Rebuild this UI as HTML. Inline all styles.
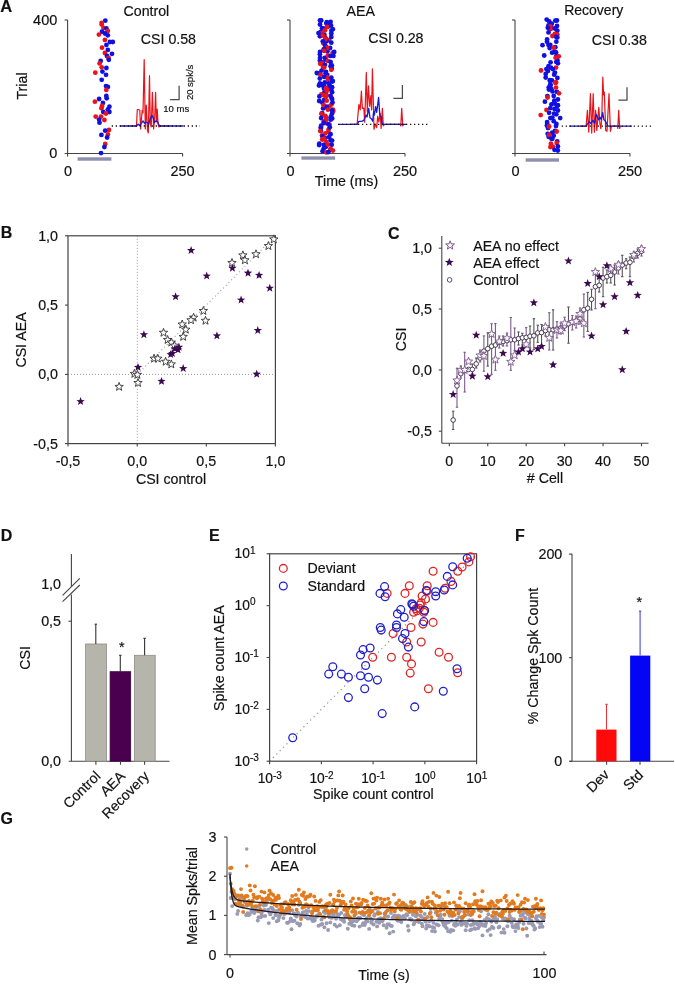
<!DOCTYPE html>
<html><head><meta charset="utf-8"><style>
html,body{margin:0;padding:0;background:#fff;}
svg{display:block;will-change:transform;}
text{font-family:"Liberation Sans",sans-serif;stroke:#111;stroke-width:0.18px;}
</style></head><body>
<svg width="675" height="984" viewBox="0 0 675 984">
<rect width="675" height="984" fill="#fff"/>
<text x="0.3" y="11.8" font-size="16.5" text-anchor="start" fill="#111" font-weight="bold">A</text>
<line x1="67.6" y1="20" x2="67.6" y2="153.5" stroke="#444" stroke-width="1.1"/>
<line x1="64.6" y1="20" x2="67.6" y2="20" stroke="#444" stroke-width="1.1"/>
<line x1="64.6" y1="153.5" x2="182.6" y2="153.5" stroke="#444" stroke-width="1.1"/>
<line x1="182.6" y1="153.5" x2="182.6" y2="156.6" stroke="#444" stroke-width="1.1"/>
<line x1="67.6" y1="153.5" x2="67.6" y2="156.6" stroke="#444" stroke-width="1.1"/>
<rect x="77.6" y="157.3" width="33.80000000000001" height="3.3999999999999773" fill="#8e8eae"/>
<text x="68.1" y="176.3" font-size="14.5" text-anchor="middle" fill="#111">0</text>
<text x="182.6" y="176.3" font-size="14.5" text-anchor="middle" fill="#111">250</text>
<text x="123.5" y="16" font-size="14.2" text-anchor="start" fill="#111">Control</text>
<text x="140.8" y="43.6" font-size="14.2" text-anchor="start" fill="#111">CSI 0.58</text>
<circle cx="105.3" cy="20.7" r="2.4" fill="#1010e0"/>
<circle cx="101.7" cy="22.8" r="2.4" fill="#e8141c"/>
<circle cx="101.7" cy="24.6" r="2.4" fill="#e8141c"/>
<circle cx="103.5" cy="27.8" r="2.4" fill="#e8141c"/>
<circle cx="106.4" cy="28.5" r="2.4" fill="#1010e0"/>
<circle cx="107.8" cy="31" r="2.4" fill="#e8141c"/>
<circle cx="102" cy="31.7" r="2.4" fill="#1010e0"/>
<circle cx="105" cy="33.5" r="2.4" fill="#1010e0"/>
<circle cx="107.8" cy="35.3" r="2.4" fill="#1010e0"/>
<circle cx="98.9" cy="34.6" r="2.4" fill="#e8141c"/>
<circle cx="104.9" cy="39.9" r="2.4" fill="#e8141c"/>
<circle cx="112.8" cy="42" r="2.4" fill="#1010e0"/>
<circle cx="109.9" cy="42" r="2.4" fill="#1010e0"/>
<circle cx="106.4" cy="44.9" r="2.4" fill="#1010e0"/>
<circle cx="102" cy="47.7" r="2.4" fill="#e8141c"/>
<circle cx="107.8" cy="49.9" r="2.4" fill="#1010e0"/>
<circle cx="112" cy="53.8" r="2.4" fill="#1010e0"/>
<circle cx="104.9" cy="53" r="2.4" fill="#e8141c"/>
<circle cx="107" cy="56" r="2.4" fill="#1010e0"/>
<circle cx="108.5" cy="58" r="2.4" fill="#e8141c"/>
<circle cx="108.8" cy="59.8" r="2.4" fill="#1010e0"/>
<circle cx="100.7" cy="60.9" r="2.4" fill="#1010e0"/>
<circle cx="99.6" cy="63.4" r="2.4" fill="#e8141c"/>
<circle cx="101.7" cy="67.3" r="2.4" fill="#e8141c"/>
<circle cx="106.4" cy="68" r="2.4" fill="#1010e0"/>
<circle cx="102.4" cy="71.6" r="2.4" fill="#1010e0"/>
<circle cx="95.3" cy="72.7" r="2.4" fill="#e8141c"/>
<circle cx="106" cy="74.8" r="2.4" fill="#1010e0"/>
<circle cx="101.7" cy="79.8" r="2.4" fill="#1010e0"/>
<circle cx="106" cy="86.1" r="2.4" fill="#1010e0"/>
<circle cx="107.9" cy="86.9" r="2.4" fill="#1010e0"/>
<circle cx="106.3" cy="89.9" r="2.4" fill="#e8141c"/>
<circle cx="106.3" cy="96" r="2.4" fill="#1010e0"/>
<circle cx="106.7" cy="98.3" r="2.4" fill="#1010e0"/>
<circle cx="99.1" cy="99" r="2.4" fill="#1010e0"/>
<circle cx="94.9" cy="101.7" r="2.4" fill="#e8141c"/>
<circle cx="102.9" cy="102.9" r="2.4" fill="#1010e0"/>
<circle cx="102.1" cy="105.9" r="2.4" fill="#e8141c"/>
<circle cx="101.4" cy="108.2" r="2.4" fill="#e8141c"/>
<circle cx="109.4" cy="106.7" r="2.4" fill="#1010e0"/>
<circle cx="107.9" cy="109.3" r="2.4" fill="#1010e0"/>
<circle cx="109.4" cy="112" r="2.4" fill="#1010e0"/>
<circle cx="103.3" cy="112" r="2.4" fill="#1010e0"/>
<circle cx="106" cy="113.5" r="2.4" fill="#e8141c"/>
<circle cx="95.7" cy="116.6" r="2.4" fill="#e8141c"/>
<circle cx="101" cy="116.6" r="2.4" fill="#e8141c"/>
<circle cx="99.1" cy="119.6" r="2.4" fill="#1010e0"/>
<circle cx="104.4" cy="120" r="2.4" fill="#e8141c"/>
<circle cx="99.5" cy="122.7" r="2.4" fill="#1010e0"/>
<circle cx="109" cy="129.9" r="2.4" fill="#e8141c"/>
<circle cx="105.2" cy="130.7" r="2.4" fill="#1010e0"/>
<circle cx="107.9" cy="134.5" r="2.4" fill="#e8141c"/>
<circle cx="101.4" cy="134.9" r="2.4" fill="#1010e0"/>
<circle cx="107.1" cy="137.5" r="2.4" fill="#1010e0"/>
<circle cx="105.2" cy="144" r="2.4" fill="#e8141c"/>
<circle cx="104.4" cy="147" r="2.4" fill="#1010e0"/>
<circle cx="101" cy="153.1" r="2.4" fill="#1010e0"/>
<polyline points="130,126 136.5,126 137.3,109.5 138.5,109.5 139.8,110.3 140.6,129 142.2,110.3 143,113 144.2,59.5 145.3,129 146.3,105 147.5,130.6 148.3,133 149.5,75.7 150.3,124.1 151.2,127 152.4,92.4 153.6,129 154.6,120 155.6,92.4 156.4,122 157.2,109.1 158,123.3 158.9,127 160,126 170,126" fill="none" stroke="#e8141c" stroke-width="1.2" stroke-linejoin="round"/>
<polyline points="119.8,126 136.5,126 138.1,124.1 139.5,125.5 141.4,123.3 143,120.9 144.6,123.3 146,122 147.5,122.5 148.7,124.1 150.3,118.4 152,115.6 153.2,117.6 154.4,122.5 156,120.9 157.6,121.7 158.9,124.9 160,126 183.5,126" fill="none" stroke="#1a1ad0" stroke-width="1.3" stroke-linejoin="round"/>
<line x1="111.7" y1="126" x2="200" y2="126" stroke="#111" stroke-width="1.3" stroke-dasharray="1.3,2.7"/>
<polyline points="170.1,99.6 179.1,99.6 179.1,85.8" fill="none" stroke="#4a4a4a" stroke-width="1.25"/>
<line x1="290" y1="20" x2="290" y2="153.5" stroke="#444" stroke-width="1.1"/>
<line x1="287" y1="20" x2="290" y2="20" stroke="#444" stroke-width="1.1"/>
<line x1="287" y1="153.5" x2="405" y2="153.5" stroke="#444" stroke-width="1.1"/>
<line x1="405" y1="153.5" x2="405" y2="156.6" stroke="#444" stroke-width="1.1"/>
<line x1="290" y1="153.5" x2="290" y2="156.6" stroke="#444" stroke-width="1.1"/>
<rect x="301.4" y="156.4" width="33.700000000000045" height="3.299999999999983" fill="#8e8eae"/>
<text x="290.5" y="176.3" font-size="14.5" text-anchor="middle" fill="#111">0</text>
<text x="405" y="176.3" font-size="14.5" text-anchor="middle" fill="#111">250</text>
<text x="346.5" y="16" font-size="14.2" text-anchor="start" fill="#111">AEA</text>
<text x="368.3" y="43.3" font-size="14.2" text-anchor="start" fill="#111">CSI 0.28</text>
<circle cx="321.2" cy="20.5" r="2.4" fill="#1010e0"/>
<circle cx="326.8" cy="22.2" r="2.4" fill="#1010e0"/>
<circle cx="326.4" cy="23.5" r="2.4" fill="#1010e0"/>
<circle cx="320.0" cy="24.5" r="2.4" fill="#1010e0"/>
<circle cx="331.0" cy="25.5" r="2.4" fill="#1010e0"/>
<circle cx="328.1" cy="26.5" r="2.4" fill="#1010e0"/>
<circle cx="324.8" cy="28.6" r="2.4" fill="#1010e0"/>
<circle cx="331.4" cy="30.6" r="2.4" fill="#1010e0"/>
<circle cx="320.7" cy="31.9" r="2.4" fill="#1010e0"/>
<circle cx="321.6" cy="33.1" r="2.4" fill="#e8141c"/>
<circle cx="324.4" cy="34.7" r="2.4" fill="#1010e0"/>
<circle cx="319.9" cy="36.3" r="2.4" fill="#1010e0"/>
<circle cx="325.2" cy="37.5" r="2.4" fill="#e8141c"/>
<circle cx="325.6" cy="38.7" r="2.4" fill="#1010e0"/>
<circle cx="329.1" cy="40.0" r="2.4" fill="#e8141c"/>
<circle cx="326.6" cy="41.2" r="2.4" fill="#1010e0"/>
<circle cx="323.2" cy="43.1" r="2.4" fill="#e8141c"/>
<circle cx="325.1" cy="45.2" r="2.4" fill="#1010e0"/>
<circle cx="326.1" cy="47.0" r="2.4" fill="#1010e0"/>
<circle cx="330.1" cy="48.0" r="2.4" fill="#1010e0"/>
<circle cx="323.5" cy="49.6" r="2.4" fill="#e8141c"/>
<circle cx="327.4" cy="51.3" r="2.4" fill="#1010e0"/>
<circle cx="332.7" cy="52.7" r="2.4" fill="#e8141c"/>
<circle cx="319.9" cy="54.2" r="2.4" fill="#1010e0"/>
<circle cx="333.4" cy="55.9" r="2.4" fill="#1010e0"/>
<circle cx="324.6" cy="57.8" r="2.4" fill="#1010e0"/>
<circle cx="325.7" cy="59.5" r="2.4" fill="#1010e0"/>
<circle cx="319.9" cy="60.6" r="2.4" fill="#1010e0"/>
<circle cx="322.6" cy="62.5" r="2.4" fill="#1010e0"/>
<circle cx="320.2" cy="63.8" r="2.4" fill="#e8141c"/>
<circle cx="331.8" cy="65.3" r="2.4" fill="#1010e0"/>
<circle cx="323.0" cy="67.1" r="2.4" fill="#e8141c"/>
<circle cx="331.8" cy="68.5" r="2.4" fill="#1010e0"/>
<circle cx="321.6" cy="70.6" r="2.4" fill="#1010e0"/>
<circle cx="326.0" cy="71.8" r="2.4" fill="#1010e0"/>
<circle cx="319.1" cy="73.4" r="2.4" fill="#1010e0"/>
<circle cx="327.2" cy="74.8" r="2.4" fill="#1010e0"/>
<circle cx="326.5" cy="76.8" r="2.4" fill="#e8141c"/>
<circle cx="319.8" cy="78.5" r="2.4" fill="#1010e0"/>
<circle cx="331.7" cy="80.4" r="2.4" fill="#e8141c"/>
<circle cx="324.8" cy="82.3" r="2.4" fill="#1010e0"/>
<circle cx="319.9" cy="83.3" r="2.4" fill="#1010e0"/>
<circle cx="321.4" cy="84.3" r="2.4" fill="#1010e0"/>
<circle cx="319.0" cy="85.6" r="2.4" fill="#1010e0"/>
<circle cx="324.3" cy="86.7" r="2.4" fill="#1010e0"/>
<circle cx="327.9" cy="87.6" r="2.4" fill="#e8141c"/>
<circle cx="324.0" cy="88.7" r="2.4" fill="#1010e0"/>
<circle cx="331.3" cy="90.0" r="2.4" fill="#1010e0"/>
<circle cx="326.0" cy="92.1" r="2.4" fill="#1010e0"/>
<circle cx="324.0" cy="93.1" r="2.4" fill="#1010e0"/>
<circle cx="321.3" cy="94.4" r="2.4" fill="#e8141c"/>
<circle cx="326.7" cy="95.3" r="2.4" fill="#e8141c"/>
<circle cx="319.4" cy="96.4" r="2.4" fill="#1010e0"/>
<circle cx="331.5" cy="97.9" r="2.4" fill="#e8141c"/>
<circle cx="324.3" cy="99.6" r="2.4" fill="#1010e0"/>
<circle cx="326.7" cy="100.7" r="2.4" fill="#e8141c"/>
<circle cx="322.2" cy="102.6" r="2.4" fill="#1010e0"/>
<circle cx="331.4" cy="104.4" r="2.4" fill="#e8141c"/>
<circle cx="329.7" cy="106.3" r="2.4" fill="#e8141c"/>
<circle cx="324.2" cy="107.5" r="2.4" fill="#1010e0"/>
<circle cx="323.1" cy="108.4" r="2.4" fill="#1010e0"/>
<circle cx="332.9" cy="109.6" r="2.4" fill="#e8141c"/>
<circle cx="333.3" cy="111.1" r="2.4" fill="#e8141c"/>
<circle cx="322.2" cy="113.1" r="2.4" fill="#1010e0"/>
<circle cx="322.0" cy="114.3" r="2.4" fill="#1010e0"/>
<circle cx="331.2" cy="115.9" r="2.4" fill="#e8141c"/>
<circle cx="330.6" cy="117.4" r="2.4" fill="#1010e0"/>
<circle cx="332.2" cy="118.4" r="2.4" fill="#1010e0"/>
<circle cx="325.9" cy="120.2" r="2.4" fill="#e8141c"/>
<circle cx="323.8" cy="121.4" r="2.4" fill="#e8141c"/>
<circle cx="324.7" cy="123.2" r="2.4" fill="#e8141c"/>
<circle cx="329.5" cy="124.6" r="2.4" fill="#e8141c"/>
<circle cx="321.2" cy="125.7" r="2.4" fill="#1010e0"/>
<circle cx="321.1" cy="127.7" r="2.4" fill="#e8141c"/>
<circle cx="328.5" cy="129.6" r="2.4" fill="#e8141c"/>
<circle cx="320.9" cy="130.9" r="2.4" fill="#1010e0"/>
<circle cx="328.4" cy="131.8" r="2.4" fill="#e8141c"/>
<circle cx="325.3" cy="133.4" r="2.4" fill="#e8141c"/>
<circle cx="322.1" cy="135.3" r="2.4" fill="#e8141c"/>
<circle cx="322.5" cy="136.5" r="2.4" fill="#1010e0"/>
<circle cx="325.1" cy="138.1" r="2.4" fill="#1010e0"/>
<circle cx="324.1" cy="139.2" r="2.4" fill="#e8141c"/>
<circle cx="332.1" cy="140.6" r="2.4" fill="#1010e0"/>
<circle cx="326.3" cy="142.0" r="2.4" fill="#e8141c"/>
<circle cx="319.3" cy="143.6" r="2.4" fill="#1010e0"/>
<circle cx="319.1" cy="145.0" r="2.4" fill="#1010e0"/>
<circle cx="325.9" cy="146.8" r="2.4" fill="#1010e0"/>
<circle cx="323.7" cy="148.6" r="2.4" fill="#1010e0"/>
<circle cx="330.4" cy="150.1" r="2.4" fill="#1010e0"/>
<circle cx="322.6" cy="151.2" r="2.4" fill="#1010e0"/>
<circle cx="326.4" cy="152.4" r="2.4" fill="#e8141c"/>
<circle cx="320" cy="20.3" r="2.4" fill="#1010e0"/>
<circle cx="330.6" cy="21.8" r="2.4" fill="#1010e0"/>
<circle cx="329.2" cy="23.5" r="2.4" fill="#1010e0"/>
<circle cx="327" cy="27" r="2.4" fill="#e8141c"/>
<circle cx="322.1" cy="28.2" r="2.4" fill="#1010e0"/>
<circle cx="332.8" cy="29.2" r="2.4" fill="#1010e0"/>
<circle cx="325" cy="30.3" r="2.4" fill="#e8141c"/>
<circle cx="318.5" cy="33.1" r="2.4" fill="#1010e0"/>
<circle cx="331.3" cy="33.5" r="2.4" fill="#1010e0"/>
<circle cx="322.8" cy="35.6" r="2.4" fill="#e8141c"/>
<circle cx="331.3" cy="37" r="2.4" fill="#1010e0"/>
<circle cx="325.3" cy="39.2" r="2.4" fill="#e8141c"/>
<circle cx="322.8" cy="41.3" r="2.4" fill="#1010e0"/>
<circle cx="331.3" cy="42.7" r="2.4" fill="#1010e0"/>
<circle cx="327" cy="47.7" r="2.4" fill="#e8141c"/>
<circle cx="324.2" cy="49.1" r="2.4" fill="#1010e0"/>
<circle cx="324.2" cy="50.9" r="2.4" fill="#e8141c"/>
<circle cx="334.2" cy="52" r="2.4" fill="#1010e0"/>
<circle cx="320" cy="52" r="2.4" fill="#1010e0"/>
<circle cx="327.8" cy="55.5" r="2.4" fill="#e8141c"/>
<circle cx="330.6" cy="55.9" r="2.4" fill="#1010e0"/>
<circle cx="320" cy="58" r="2.4" fill="#1010e0"/>
<circle cx="327.8" cy="60.9" r="2.4" fill="#e8141c"/>
<circle cx="330.6" cy="62" r="2.4" fill="#1010e0"/>
<circle cx="322.1" cy="63.4" r="2.4" fill="#e8141c"/>
<circle cx="324.9" cy="64.8" r="2.4" fill="#1010e0"/>
<circle cx="324.2" cy="67.6" r="2.4" fill="#e8141c"/>
<circle cx="330.6" cy="66.2" r="2.4" fill="#1010e0"/>
<circle cx="331.3" cy="69.8" r="2.4" fill="#e8141c"/>
<circle cx="316.8" cy="73" r="2.4" fill="#1010e0"/>
<circle cx="320.7" cy="74.7" r="2.4" fill="#e8141c"/>
<circle cx="325.6" cy="73.3" r="2.4" fill="#1010e0"/>
<circle cx="324.2" cy="76.9" r="2.4" fill="#1010e0"/>
<circle cx="327.8" cy="79" r="2.4" fill="#e8141c"/>
<circle cx="331.3" cy="77.6" r="2.4" fill="#1010e0"/>
<circle cx="332.8" cy="81.1" r="2.4" fill="#1010e0"/>
<circle cx="323.2" cy="84.3" r="2.4" fill="#1010e0"/>
<circle cx="328.5" cy="83.3" r="2.4" fill="#1010e0"/>
<circle cx="332.1" cy="81.5" r="2.4" fill="#1010e0"/>
<circle cx="323" cy="85.7" r="2.4" fill="#1010e0"/>
<circle cx="329.8" cy="85.7" r="2.4" fill="#1010e0"/>
<circle cx="326" cy="88.4" r="2.4" fill="#e8141c"/>
<circle cx="332.1" cy="87.2" r="2.4" fill="#1010e0"/>
<circle cx="326.8" cy="90.7" r="2.4" fill="#e8141c"/>
<circle cx="332.1" cy="92.2" r="2.4" fill="#1010e0"/>
<circle cx="323.3" cy="94.9" r="2.4" fill="#e8141c"/>
<circle cx="326" cy="96.8" r="2.4" fill="#e8141c"/>
<circle cx="330.6" cy="96" r="2.4" fill="#1010e0"/>
<circle cx="332.1" cy="99.1" r="2.4" fill="#1010e0"/>
<circle cx="319.2" cy="101" r="2.4" fill="#1010e0"/>
<circle cx="332.5" cy="102.5" r="2.4" fill="#1010e0"/>
<circle cx="323.7" cy="105.2" r="2.4" fill="#e8141c"/>
<circle cx="326.8" cy="106.7" r="2.4" fill="#1010e0"/>
<circle cx="327.9" cy="109.7" r="2.4" fill="#e8141c"/>
<circle cx="332.1" cy="110.5" r="2.4" fill="#1010e0"/>
<circle cx="321.4" cy="113.6" r="2.4" fill="#e8141c"/>
<circle cx="332.1" cy="113.6" r="2.4" fill="#1010e0"/>
<circle cx="325.3" cy="115.9" r="2.4" fill="#e8141c"/>
<circle cx="321.1" cy="118.1" r="2.4" fill="#1010e0"/>
<circle cx="326" cy="117.4" r="2.4" fill="#e8141c"/>
<circle cx="330.6" cy="119.7" r="2.4" fill="#1010e0"/>
<circle cx="323.7" cy="122.7" r="2.4" fill="#1010e0"/>
<circle cx="328.3" cy="124.2" r="2.4" fill="#1010e0"/>
<circle cx="329.8" cy="127.3" r="2.4" fill="#1010e0"/>
<circle cx="320.7" cy="127.7" r="2.4" fill="#1010e0"/>
<circle cx="320.3" cy="131.1" r="2.4" fill="#e8141c"/>
<circle cx="330.6" cy="134.2" r="2.4" fill="#1010e0"/>
<circle cx="329.1" cy="137.2" r="2.4" fill="#1010e0"/>
<circle cx="322.2" cy="139.5" r="2.4" fill="#e8141c"/>
<circle cx="324.1" cy="138.7" r="2.4" fill="#e8141c"/>
<circle cx="330.6" cy="140.3" r="2.4" fill="#1010e0"/>
<circle cx="323.7" cy="144.8" r="2.4" fill="#1010e0"/>
<circle cx="327.9" cy="144.5" r="2.4" fill="#e8141c"/>
<circle cx="331.7" cy="144.8" r="2.4" fill="#1010e0"/>
<circle cx="330.6" cy="148.6" r="2.4" fill="#e8141c"/>
<circle cx="332.9" cy="150.6" r="2.4" fill="#e8141c"/>
<circle cx="328.3" cy="152.1" r="2.4" fill="#1010e0"/>
<polyline points="350,124.4 357.1,124.4 358.9,104.4 360.2,109.8 361.4,91.1 362.4,108.4 363.8,108 364.7,122.2 366.3,72.4 367.3,111.6 368.5,85.8 369.7,106.2 370.9,95.6 371.6,110 372.4,68.9 373.3,100 374,129.3 375.3,124 376.7,127.6 377.7,116 378.8,122 380.2,113.3 381.1,128.4 382.4,108.4 383.3,125.8 384.5,124.4 400.2,124.4 400.8,126 401.7,108.4 402.8,126 403.5,124.4" fill="none" stroke="#e8141c" stroke-width="1.2" stroke-linejoin="round"/>
<polyline points="338.5,124.4 357.1,124.4 358.9,121.3 361.6,121.3 363.8,120.4 366,115.1 367,117 368.7,108.4 370,117.8 371.3,118.7 372.7,121.3 373.6,111.6 374.4,115.1 375.6,106.7 376.7,112.4 378.6,97.3 379.8,115.1 381.1,116.9 382.4,124 383.5,124.4 406.8,124.4" fill="none" stroke="#1a1ad0" stroke-width="1.3" stroke-linejoin="round"/>
<line x1="338" y1="124.4" x2="428" y2="124.4" stroke="#111" stroke-width="1.3" stroke-dasharray="1.3,2.7"/>
<polyline points="393.4,98.4 402.4,98.4 402.4,84.9" fill="none" stroke="#4a4a4a" stroke-width="1.25"/>
<line x1="515" y1="20" x2="515" y2="153.5" stroke="#444" stroke-width="1.1"/>
<line x1="512" y1="20" x2="515" y2="20" stroke="#444" stroke-width="1.1"/>
<line x1="512" y1="153.5" x2="630" y2="153.5" stroke="#444" stroke-width="1.1"/>
<line x1="630" y1="153.5" x2="630" y2="156.6" stroke="#444" stroke-width="1.1"/>
<line x1="515" y1="153.5" x2="515" y2="156.6" stroke="#444" stroke-width="1.1"/>
<rect x="525.7" y="158.3" width="33.299999999999955" height="3.3999999999999773" fill="#8e8eae"/>
<text x="515.5" y="176.3" font-size="14.5" text-anchor="middle" fill="#111">0</text>
<text x="630" y="176.3" font-size="14.5" text-anchor="middle" fill="#111">250</text>
<text x="564.2" y="15" font-size="14" text-anchor="start" fill="#111">Recovery</text>
<text x="591.7" y="45.2" font-size="14.2" text-anchor="start" fill="#111">CSI 0.38</text>
<circle cx="556.9" cy="20.5" r="2.4" fill="#1010e0"/>
<circle cx="551.8" cy="23.7" r="2.4" fill="#1010e0"/>
<circle cx="551.2" cy="27.2" r="2.4" fill="#1010e0"/>
<circle cx="557.3" cy="30.7" r="2.4" fill="#1010e0"/>
<circle cx="557.3" cy="34.6" r="2.4" fill="#e8141c"/>
<circle cx="557.3" cy="37.4" r="2.4" fill="#1010e0"/>
<circle cx="547.0" cy="41.7" r="2.4" fill="#1010e0"/>
<circle cx="548.5" cy="44.9" r="2.4" fill="#1010e0"/>
<circle cx="555.3" cy="47.2" r="2.4" fill="#1010e0"/>
<circle cx="554.5" cy="51.6" r="2.4" fill="#1010e0"/>
<circle cx="556.5" cy="55.5" r="2.4" fill="#1010e0"/>
<circle cx="557.4" cy="60.2" r="2.4" fill="#1010e0"/>
<circle cx="557.9" cy="63.3" r="2.4" fill="#1010e0"/>
<circle cx="550.9" cy="67.6" r="2.4" fill="#1010e0"/>
<circle cx="547.9" cy="71.0" r="2.4" fill="#1010e0"/>
<circle cx="545.7" cy="73.9" r="2.4" fill="#1010e0"/>
<circle cx="545.7" cy="77.5" r="2.4" fill="#1010e0"/>
<circle cx="551.9" cy="80.4" r="2.4" fill="#1010e0"/>
<circle cx="555.4" cy="82.6" r="2.4" fill="#e8141c"/>
<circle cx="548.8" cy="87.3" r="2.4" fill="#1010e0"/>
<circle cx="548.9" cy="89.5" r="2.4" fill="#1010e0"/>
<circle cx="556.9" cy="91.9" r="2.4" fill="#1010e0"/>
<circle cx="547.4" cy="96.1" r="2.4" fill="#1010e0"/>
<circle cx="554.3" cy="100.7" r="2.4" fill="#1010e0"/>
<circle cx="554.1" cy="102.9" r="2.4" fill="#1010e0"/>
<circle cx="557.2" cy="106.1" r="2.4" fill="#1010e0"/>
<circle cx="546.5" cy="109.9" r="2.4" fill="#e8141c"/>
<circle cx="556.3" cy="114.3" r="2.4" fill="#1010e0"/>
<circle cx="552.4" cy="117.6" r="2.4" fill="#1010e0"/>
<circle cx="547.1" cy="122.1" r="2.4" fill="#1010e0"/>
<circle cx="546.9" cy="125.6" r="2.4" fill="#1010e0"/>
<circle cx="548.0" cy="128.1" r="2.4" fill="#1010e0"/>
<circle cx="555.0" cy="131.0" r="2.4" fill="#1010e0"/>
<circle cx="547.7" cy="133.8" r="2.4" fill="#1010e0"/>
<circle cx="548.6" cy="136.8" r="2.4" fill="#1010e0"/>
<circle cx="552.4" cy="138.8" r="2.4" fill="#1010e0"/>
<circle cx="557.2" cy="141.4" r="2.4" fill="#1010e0"/>
<circle cx="550.9" cy="143.7" r="2.4" fill="#e8141c"/>
<circle cx="550.4" cy="147.1" r="2.4" fill="#e8141c"/>
<circle cx="557.8" cy="150.5" r="2.4" fill="#1010e0"/>
<circle cx="546.7" cy="19.6" r="2.4" fill="#1010e0"/>
<circle cx="549.2" cy="21.4" r="2.4" fill="#1010e0"/>
<circle cx="555.3" cy="20.7" r="2.4" fill="#1010e0"/>
<circle cx="548.5" cy="25.3" r="2.4" fill="#1010e0"/>
<circle cx="550.3" cy="26.4" r="2.4" fill="#e8141c"/>
<circle cx="557" cy="26" r="2.4" fill="#1010e0"/>
<circle cx="550.6" cy="29.2" r="2.4" fill="#e8141c"/>
<circle cx="547.8" cy="27.8" r="2.4" fill="#1010e0"/>
<circle cx="554.9" cy="28.5" r="2.4" fill="#1010e0"/>
<circle cx="548.5" cy="32.4" r="2.4" fill="#1010e0"/>
<circle cx="554.9" cy="33.8" r="2.4" fill="#e8141c"/>
<circle cx="552.4" cy="36" r="2.4" fill="#e8141c"/>
<circle cx="556.3" cy="37" r="2.4" fill="#1010e0"/>
<circle cx="547.1" cy="39.5" r="2.4" fill="#1010e0"/>
<circle cx="556.3" cy="41.7" r="2.4" fill="#1010e0"/>
<circle cx="542.5" cy="45.2" r="2.4" fill="#1010e0"/>
<circle cx="550.3" cy="44.9" r="2.4" fill="#1010e0"/>
<circle cx="553.8" cy="47.7" r="2.4" fill="#e8141c"/>
<circle cx="549.6" cy="48.1" r="2.4" fill="#1010e0"/>
<circle cx="552.1" cy="52.7" r="2.4" fill="#1010e0"/>
<circle cx="556" cy="52.3" r="2.4" fill="#1010e0"/>
<circle cx="544.2" cy="55.5" r="2.4" fill="#1010e0"/>
<circle cx="558.8" cy="56.3" r="2.4" fill="#e8141c"/>
<circle cx="555.6" cy="57.7" r="2.4" fill="#e8141c"/>
<circle cx="556.3" cy="61.9" r="2.4" fill="#1010e0"/>
<circle cx="550.6" cy="62.3" r="2.4" fill="#1010e0"/>
<circle cx="548.5" cy="66.2" r="2.4" fill="#1010e0"/>
<circle cx="546.4" cy="69.1" r="2.4" fill="#1010e0"/>
<circle cx="556" cy="67.6" r="2.4" fill="#e8141c"/>
<circle cx="541" cy="70.5" r="2.4" fill="#e8141c"/>
<circle cx="552.8" cy="69.1" r="2.4" fill="#1010e0"/>
<circle cx="554.9" cy="72.6" r="2.4" fill="#1010e0"/>
<circle cx="554.2" cy="74.7" r="2.4" fill="#1010e0"/>
<circle cx="557.4" cy="77.9" r="2.4" fill="#1010e0"/>
<circle cx="549.9" cy="80.1" r="2.4" fill="#1010e0"/>
<circle cx="556" cy="82.2" r="2.4" fill="#e8141c"/>
<circle cx="550.3" cy="84.3" r="2.4" fill="#1010e0"/>
<circle cx="549.9" cy="80.8" r="2.4" fill="#1010e0"/>
<circle cx="555.6" cy="83" r="2.4" fill="#e8141c"/>
<circle cx="550.6" cy="85.3" r="2.4" fill="#1010e0"/>
<circle cx="556" cy="87.6" r="2.4" fill="#e8141c"/>
<circle cx="551.4" cy="89.2" r="2.4" fill="#1010e0"/>
<circle cx="552.5" cy="91.4" r="2.4" fill="#1010e0"/>
<circle cx="559" cy="93.3" r="2.4" fill="#e8141c"/>
<circle cx="553.7" cy="96" r="2.4" fill="#1010e0"/>
<circle cx="547.6" cy="97.5" r="2.4" fill="#e8141c"/>
<circle cx="557.9" cy="99.5" r="2.4" fill="#1010e0"/>
<circle cx="544.9" cy="101.7" r="2.4" fill="#1010e0"/>
<circle cx="551.4" cy="104.4" r="2.4" fill="#1010e0"/>
<circle cx="554.8" cy="103.6" r="2.4" fill="#1010e0"/>
<circle cx="557.9" cy="105.2" r="2.4" fill="#1010e0"/>
<circle cx="550.3" cy="108.2" r="2.4" fill="#1010e0"/>
<circle cx="554.5" cy="109" r="2.4" fill="#1010e0"/>
<circle cx="557.9" cy="110.5" r="2.4" fill="#1010e0"/>
<circle cx="549.1" cy="112.8" r="2.4" fill="#1010e0"/>
<circle cx="554.1" cy="113.6" r="2.4" fill="#1010e0"/>
<circle cx="540.7" cy="115.1" r="2.4" fill="#e8141c"/>
<circle cx="550.3" cy="118.1" r="2.4" fill="#1010e0"/>
<circle cx="560.2" cy="118.1" r="2.4" fill="#1010e0"/>
<circle cx="553.7" cy="121.2" r="2.4" fill="#1010e0"/>
<circle cx="556.4" cy="123.9" r="2.4" fill="#1010e0"/>
<circle cx="547.2" cy="123.9" r="2.4" fill="#1010e0"/>
<circle cx="549.1" cy="126.5" r="2.4" fill="#e8141c"/>
<circle cx="556" cy="126.1" r="2.4" fill="#1010e0"/>
<circle cx="556.7" cy="131.5" r="2.4" fill="#e8141c"/>
<circle cx="552.2" cy="132.6" r="2.4" fill="#1010e0"/>
<circle cx="549.1" cy="134.9" r="2.4" fill="#e8141c"/>
<circle cx="553.7" cy="135.7" r="2.4" fill="#1010e0"/>
<circle cx="551.4" cy="138.7" r="2.4" fill="#1010e0"/>
<circle cx="556.7" cy="142.9" r="2.4" fill="#e8141c"/>
<circle cx="552.9" cy="146.7" r="2.4" fill="#e8141c"/>
<circle cx="557.9" cy="146.4" r="2.4" fill="#1010e0"/>
<circle cx="554.5" cy="149.8" r="2.4" fill="#1010e0"/>
<polyline points="580,126.2 586.1,126.2 587.4,110.4 588.8,132.2 590.4,93.6 591.7,133.1 593.2,93.6 594.4,132.2 595.6,110.4 596.8,130.4 598.8,107.3 599.9,123.3 600.8,128.7 601.8,118 602.8,77.1 603.6,94.9 604.3,92.2 605.7,130.4 607,131.3 609,93.6 610.4,131.3 611.5,126.2 617.5,126.2 617.8,128.5 618.7,110.4 619.7,128.5 620.3,126.2" fill="none" stroke="#e8141c" stroke-width="1.2" stroke-linejoin="round"/>
<polyline points="569,126.2 586,126.2 587.5,124 589.2,121.6 591,123.5 592.8,120.2 594.6,123.3 596.3,114.4 597.5,117 598.6,119.8 599.9,117.1 601.2,119.5 602.7,112.5 603.9,119.8 605.2,120.7 606.6,123.3 608,126.2 632,126.2" fill="none" stroke="#1a1ad0" stroke-width="1.3" stroke-linejoin="round"/>
<line x1="561.7" y1="126.2" x2="651" y2="126.2" stroke="#111" stroke-width="1.3" stroke-dasharray="1.3,2.7"/>
<polyline points="618.4,100.2 627,100.2 627,87.3" fill="none" stroke="#4a4a4a" stroke-width="1.25"/>
<text x="57.3" y="24.8" font-size="14.5" text-anchor="end" fill="#111">400</text>
<text x="57.3" y="158.2" font-size="14.5" text-anchor="end" fill="#111">0</text>
<text x="26.5" y="86" font-size="14.2" text-anchor="middle" fill="#111" transform="rotate(-90 26.5 86)">Trial</text>
<text x="192.9" y="82.4" font-size="9.5" text-anchor="middle" fill="#111" transform="rotate(-90 192.9 82.4)">20 spk/s</text>
<text x="163.3" y="111.6" font-size="9.5" text-anchor="start" fill="#111">10 ms</text>
<text x="346.5" y="186" font-size="14.2" text-anchor="middle" fill="#111">Time (ms)</text>
<text x="0.8" y="238.3" font-size="16" text-anchor="start" fill="#111" font-weight="bold">B</text>
<line x1="137.3" y1="235.8" x2="137.3" y2="443.6" stroke="#999" stroke-width="1" stroke-dasharray="1,2"/>
<line x1="68" y1="374.4" x2="275.4" y2="374.4" stroke="#999" stroke-width="1" stroke-dasharray="1,2"/>
<line x1="137.3" y1="374.4" x2="275.4" y2="235.8" stroke="#999" stroke-width="1.1" stroke-dasharray="1,2.8"/>
<rect x="68" y="235.8" width="207.39999999999998" height="207.8" fill="none" stroke="#444" stroke-width="1.2"/>
<line x1="65" y1="235.8" x2="68" y2="235.8" stroke="#444" stroke-width="1.1"/>
<text x="58" y="240.8" font-size="14.3" text-anchor="end" fill="#111">1,0</text>
<line x1="65" y1="305.1" x2="68" y2="305.1" stroke="#444" stroke-width="1.1"/>
<text x="58" y="310.1" font-size="14.3" text-anchor="end" fill="#111">0,5</text>
<line x1="65" y1="374.4" x2="68" y2="374.4" stroke="#444" stroke-width="1.1"/>
<text x="58" y="379.4" font-size="14.3" text-anchor="end" fill="#111">0,0</text>
<line x1="65" y1="443.6" x2="68" y2="443.6" stroke="#444" stroke-width="1.1"/>
<text x="58" y="448.6" font-size="14.3" text-anchor="end" fill="#111">-0,5</text>
<line x1="68" y1="443.6" x2="68" y2="446.6" stroke="#444" stroke-width="1.1"/>
<text x="68" y="466.3" font-size="14.3" text-anchor="middle" fill="#111">-0,5</text>
<line x1="137.2" y1="443.6" x2="137.2" y2="446.6" stroke="#444" stroke-width="1.1"/>
<text x="137.2" y="466.3" font-size="14.3" text-anchor="middle" fill="#111">0,0</text>
<line x1="206.3" y1="443.6" x2="206.3" y2="446.6" stroke="#444" stroke-width="1.1"/>
<text x="206.3" y="466.3" font-size="14.3" text-anchor="middle" fill="#111">0,5</text>
<line x1="275.4" y1="443.6" x2="275.4" y2="446.6" stroke="#444" stroke-width="1.1"/>
<text x="275.4" y="466.3" font-size="14.3" text-anchor="middle" fill="#111">1,0</text>
<text x="171" y="483.5" font-size="14.2" text-anchor="middle" fill="#111">CSI control</text>
<text x="25.5" y="340" font-size="14.2" text-anchor="middle" fill="#111" transform="rotate(-90 25.5 340)">CSI AEA</text>
<polygon points="273.80,234.90 274.89,237.80 277.98,237.94 275.56,239.87 276.39,242.86 273.80,241.15 271.21,242.86 272.04,239.87 269.62,237.94 272.71,237.80" fill="#fff" stroke="#333" stroke-width="0.9"/>
<polygon points="268.40,241.60 269.49,244.50 272.58,244.64 270.16,246.57 270.99,249.56 268.40,247.85 265.81,249.56 266.64,246.57 264.22,244.64 267.31,244.50" fill="#fff" stroke="#333" stroke-width="0.9"/>
<polygon points="256.00,249.80 257.09,252.70 260.18,252.84 257.76,254.77 258.59,257.76 256.00,256.05 253.41,257.76 254.24,254.77 251.82,252.84 254.91,252.70" fill="#fff" stroke="#333" stroke-width="0.9"/>
<polygon points="242.90,250.90 243.99,253.80 247.08,253.94 244.66,255.87 245.49,258.86 242.90,257.15 240.31,258.86 241.14,255.87 238.72,253.94 241.81,253.80" fill="#fff" stroke="#333" stroke-width="0.9"/>
<polygon points="244.90,255.80 245.99,258.70 249.08,258.84 246.66,260.77 247.49,263.76 244.90,262.05 242.31,263.76 243.14,260.77 240.72,258.84 243.81,258.70" fill="#fff" stroke="#333" stroke-width="0.9"/>
<polygon points="232.00,258.50 233.09,261.40 236.18,261.54 233.76,263.47 234.59,266.46 232.00,264.75 229.41,266.46 230.24,263.47 227.82,261.54 230.91,261.40" fill="#fff" stroke="#333" stroke-width="0.9"/>
<polygon points="203.40,306.50 204.49,309.40 207.58,309.54 205.16,311.47 205.99,314.46 203.40,312.75 200.81,314.46 201.64,311.47 199.22,309.54 202.31,309.40" fill="#fff" stroke="#333" stroke-width="0.9"/>
<polygon points="205.50,316.30 206.59,319.20 209.68,319.34 207.26,321.27 208.09,324.26 205.50,322.55 202.91,324.26 203.74,321.27 201.32,319.34 204.41,319.20" fill="#fff" stroke="#333" stroke-width="0.9"/>
<polygon points="193.60,313.20 194.69,316.10 197.78,316.24 195.36,318.17 196.19,321.16 193.60,319.45 191.01,321.16 191.84,318.17 189.42,316.24 192.51,316.10" fill="#fff" stroke="#333" stroke-width="0.9"/>
<polygon points="191.00,315.80 192.09,318.70 195.18,318.84 192.76,320.77 193.59,323.76 191.00,322.05 188.41,323.76 189.24,320.77 186.82,318.84 189.91,318.70" fill="#fff" stroke="#333" stroke-width="0.9"/>
<polygon points="182.20,320.00 183.29,322.90 186.38,323.04 183.96,324.97 184.79,327.96 182.20,326.25 179.61,327.96 180.44,324.97 178.02,323.04 181.11,322.90" fill="#fff" stroke="#333" stroke-width="0.9"/>
<polygon points="185.80,325.20 186.89,328.10 189.98,328.24 187.56,330.17 188.39,333.16 185.80,331.45 183.21,333.16 184.04,330.17 181.62,328.24 184.71,328.10" fill="#fff" stroke="#333" stroke-width="0.9"/>
<polygon points="183.20,332.40 184.29,335.30 187.38,335.44 184.96,337.37 185.79,340.36 183.20,338.65 180.61,340.36 181.44,337.37 179.02,335.44 182.11,335.30" fill="#fff" stroke="#333" stroke-width="0.9"/>
<polygon points="163.50,328.30 164.59,331.20 167.68,331.34 165.26,333.27 166.09,336.26 163.50,334.55 160.91,336.26 161.74,333.27 159.32,331.34 162.41,331.20" fill="#fff" stroke="#333" stroke-width="0.9"/>
<polygon points="167.60,335.50 168.69,338.40 171.78,338.54 169.36,340.47 170.19,343.46 167.60,341.75 165.01,343.46 165.84,340.47 163.42,338.54 166.51,338.40" fill="#fff" stroke="#333" stroke-width="0.9"/>
<polygon points="171.30,338.10 172.39,341.00 175.48,341.14 173.06,343.07 173.89,346.06 171.30,344.35 168.71,346.06 169.54,343.07 167.12,341.14 170.21,341.00" fill="#fff" stroke="#333" stroke-width="0.9"/>
<polygon points="174.40,341.20 175.49,344.10 178.58,344.24 176.16,346.17 176.99,349.16 174.40,347.45 171.81,349.16 172.64,346.17 170.22,344.24 173.31,344.10" fill="#fff" stroke="#333" stroke-width="0.9"/>
<polygon points="154.10,354.20 155.19,357.10 158.28,357.24 155.86,359.17 156.69,362.16 154.10,360.45 151.51,362.16 152.34,359.17 149.92,357.24 153.01,357.10" fill="#fff" stroke="#333" stroke-width="0.9"/>
<polygon points="157.80,354.20 158.89,357.10 161.98,357.24 159.56,359.17 160.39,362.16 157.80,360.45 155.21,362.16 156.04,359.17 153.62,357.24 156.71,357.10" fill="#fff" stroke="#333" stroke-width="0.9"/>
<polygon points="165.60,357.30 166.69,360.20 169.78,360.34 167.36,362.27 168.19,365.26 165.60,363.55 163.01,365.26 163.84,362.27 161.42,360.34 164.51,360.20" fill="#fff" stroke="#333" stroke-width="0.9"/>
<polygon points="171.30,359.90 172.39,362.80 175.48,362.94 173.06,364.87 173.89,367.86 171.30,366.15 168.71,367.86 169.54,364.87 167.12,362.94 170.21,362.80" fill="#fff" stroke="#333" stroke-width="0.9"/>
<polygon points="134.40,369.40 135.49,372.30 138.58,372.44 136.16,374.37 136.99,377.36 134.40,375.65 131.81,377.36 132.64,374.37 130.22,372.44 133.31,372.30" fill="#fff" stroke="#333" stroke-width="0.9"/>
<polygon points="137.40,370.40 138.49,373.30 141.58,373.44 139.16,375.37 139.99,378.36 137.40,376.65 134.81,378.36 135.64,375.37 133.22,373.44 136.31,373.30" fill="#fff" stroke="#333" stroke-width="0.9"/>
<polygon points="138.00,378.50 139.09,381.40 142.18,381.54 139.76,383.47 140.59,386.46 138.00,384.75 135.41,386.46 136.24,383.47 133.82,381.54 136.91,381.40" fill="#fff" stroke="#333" stroke-width="0.9"/>
<polygon points="119.10,382.40 120.19,385.30 123.28,385.44 120.86,387.37 121.69,390.36 119.10,388.65 116.51,390.36 117.34,387.37 114.92,385.44 118.01,385.30" fill="#fff" stroke="#333" stroke-width="0.9"/>
<polygon points="191.10,246.00 192.19,248.90 195.28,249.04 192.86,250.97 193.69,253.96 191.10,252.25 188.51,253.96 189.34,250.97 186.92,249.04 190.01,248.90" fill="#3c0a50" stroke="none" stroke-width="0.8"/>
<polygon points="206.70,271.60 207.79,274.50 210.88,274.64 208.46,276.57 209.29,279.56 206.70,277.85 204.11,279.56 204.94,276.57 202.52,274.64 205.61,274.50" fill="#3c0a50" stroke="none" stroke-width="0.8"/>
<polygon points="175.60,292.30 176.69,295.20 179.78,295.34 177.36,297.27 178.19,300.26 175.60,298.55 173.01,300.26 173.84,297.27 171.42,295.34 174.51,295.20" fill="#3c0a50" stroke="none" stroke-width="0.8"/>
<polygon points="232.40,263.80 233.49,266.70 236.58,266.84 234.16,268.77 234.99,271.76 232.40,270.05 229.81,271.76 230.64,268.77 228.22,266.84 231.31,266.70" fill="#3c0a50" stroke="none" stroke-width="0.8"/>
<polygon points="248.00,268.70 249.09,271.60 252.18,271.74 249.76,273.67 250.59,276.66 248.00,274.95 245.41,276.66 246.24,273.67 243.82,271.74 246.91,271.60" fill="#3c0a50" stroke="none" stroke-width="0.8"/>
<polygon points="259.10,270.90 260.19,273.80 263.28,273.94 260.86,275.87 261.69,278.86 259.10,277.15 256.51,278.86 257.34,275.87 254.92,273.94 258.01,273.80" fill="#3c0a50" stroke="none" stroke-width="0.8"/>
<polygon points="269.80,283.80 270.89,286.70 273.98,286.84 271.56,288.77 272.39,291.76 269.80,290.05 267.21,291.76 268.04,288.77 265.62,286.84 268.71,286.70" fill="#3c0a50" stroke="none" stroke-width="0.8"/>
<polygon points="241.10,295.60 242.19,298.50 245.28,298.64 242.86,300.57 243.69,303.56 241.10,301.85 238.51,303.56 239.34,300.57 236.92,298.64 240.01,298.50" fill="#3c0a50" stroke="none" stroke-width="0.8"/>
<polygon points="257.80,326.00 258.89,328.90 261.98,329.04 259.56,330.97 260.39,333.96 257.80,332.25 255.21,333.96 256.04,330.97 253.62,329.04 256.71,328.90" fill="#3c0a50" stroke="none" stroke-width="0.8"/>
<polygon points="143.90,330.30 144.99,333.20 148.08,333.34 145.66,335.27 146.49,338.26 143.90,336.55 141.31,338.26 142.14,335.27 139.72,333.34 142.81,333.20" fill="#3c0a50" stroke="none" stroke-width="0.8"/>
<polygon points="216.90,331.40 217.99,334.30 221.08,334.44 218.66,336.37 219.49,339.36 216.90,337.65 214.31,339.36 215.14,336.37 212.72,334.44 215.81,334.30" fill="#3c0a50" stroke="none" stroke-width="0.8"/>
<polygon points="179.00,342.80 180.09,345.70 183.18,345.84 180.76,347.77 181.59,350.76 179.00,349.05 176.41,350.76 177.24,347.77 174.82,345.84 177.91,345.70" fill="#3c0a50" stroke="none" stroke-width="0.8"/>
<polygon points="178.00,345.40 179.09,348.30 182.18,348.44 179.76,350.37 180.59,353.36 178.00,351.65 175.41,353.36 176.24,350.37 173.82,348.44 176.91,348.30" fill="#3c0a50" stroke="none" stroke-width="0.8"/>
<polygon points="174.90,344.40 175.99,347.30 179.08,347.44 176.66,349.37 177.49,352.36 174.90,350.65 172.31,352.36 173.14,349.37 170.72,347.44 173.81,347.30" fill="#3c0a50" stroke="none" stroke-width="0.8"/>
<polygon points="170.70,350.10 171.79,353.00 174.88,353.14 172.46,355.07 173.29,358.06 170.70,356.35 168.11,358.06 168.94,355.07 166.52,353.14 169.61,353.00" fill="#3c0a50" stroke="none" stroke-width="0.8"/>
<polygon points="172.30,349.00 173.39,351.90 176.48,352.04 174.06,353.97 174.89,356.96 172.30,355.25 169.71,356.96 170.54,353.97 168.12,352.04 171.21,351.90" fill="#3c0a50" stroke="none" stroke-width="0.8"/>
<polygon points="183.20,364.10 184.29,367.00 187.38,367.14 184.96,369.07 185.79,372.06 183.20,370.35 180.61,372.06 181.44,369.07 179.02,367.14 182.11,367.00" fill="#3c0a50" stroke="none" stroke-width="0.8"/>
<polygon points="138.00,362.90 139.09,365.80 142.18,365.94 139.76,367.87 140.59,370.86 138.00,369.15 135.41,370.86 136.24,367.87 133.82,365.94 136.91,365.80" fill="#3c0a50" stroke="none" stroke-width="0.8"/>
<polygon points="161.50,376.90 162.59,379.80 165.68,379.94 163.26,381.87 164.09,384.86 161.50,383.15 158.91,384.86 159.74,381.87 157.32,379.94 160.41,379.80" fill="#3c0a50" stroke="none" stroke-width="0.8"/>
<polygon points="256.70,369.70 257.79,372.60 260.88,372.74 258.46,374.67 259.29,377.66 256.70,375.95 254.11,377.66 254.94,374.67 252.52,372.74 255.61,372.60" fill="#3c0a50" stroke="none" stroke-width="0.8"/>
<polygon points="80.60,397.10 81.69,400.00 84.78,400.14 82.36,402.07 83.19,405.06 80.60,403.35 78.01,405.06 78.84,402.07 76.42,400.14 79.51,400.00" fill="#3c0a50" stroke="none" stroke-width="0.8"/>
<text x="388" y="238.5" font-size="16" text-anchor="start" fill="#111" font-weight="bold">C</text>
<line x1="441.8" y1="236" x2="441.8" y2="443.3" stroke="#444" stroke-width="1.1"/>
<line x1="441.8" y1="443.3" x2="648.5" y2="443.3" stroke="#444" stroke-width="1.1"/>
<line x1="438.8" y1="248.2" x2="441.8" y2="248.2" stroke="#444" stroke-width="1.1"/>
<text x="432" y="253.2" font-size="14.3" text-anchor="end" fill="#111">1,0</text>
<line x1="438.8" y1="309" x2="441.8" y2="309" stroke="#444" stroke-width="1.1"/>
<text x="432" y="314" font-size="14.3" text-anchor="end" fill="#111">0,5</text>
<line x1="438.8" y1="370" x2="441.8" y2="370" stroke="#444" stroke-width="1.1"/>
<text x="432" y="375" font-size="14.3" text-anchor="end" fill="#111">0,0</text>
<line x1="438.8" y1="431.2" x2="441.8" y2="431.2" stroke="#444" stroke-width="1.1"/>
<text x="432" y="436.2" font-size="14.3" text-anchor="end" fill="#111">-0,5</text>
<line x1="449.3" y1="443.3" x2="449.3" y2="446.3" stroke="#444" stroke-width="1.1"/>
<text x="449.3" y="466.3" font-size="14.3" text-anchor="middle" fill="#111">0</text>
<line x1="487.74" y1="443.3" x2="487.74" y2="446.3" stroke="#444" stroke-width="1.1"/>
<text x="487.74" y="466.3" font-size="14.3" text-anchor="middle" fill="#111">10</text>
<line x1="526.1800000000001" y1="443.3" x2="526.1800000000001" y2="446.3" stroke="#444" stroke-width="1.1"/>
<text x="526.1800000000001" y="466.3" font-size="14.3" text-anchor="middle" fill="#111">20</text>
<line x1="564.62" y1="443.3" x2="564.62" y2="446.3" stroke="#444" stroke-width="1.1"/>
<text x="564.62" y="466.3" font-size="14.3" text-anchor="middle" fill="#111">30</text>
<line x1="603.06" y1="443.3" x2="603.06" y2="446.3" stroke="#444" stroke-width="1.1"/>
<text x="603.06" y="466.3" font-size="14.3" text-anchor="middle" fill="#111">40</text>
<line x1="641.5" y1="443.3" x2="641.5" y2="446.3" stroke="#444" stroke-width="1.1"/>
<text x="641.5" y="466.3" font-size="14.3" text-anchor="middle" fill="#111">50</text>
<text x="545" y="483.2" font-size="14.2" text-anchor="middle" fill="#111"># Cell</text>
<text x="406" y="339.5" font-size="14.2" text-anchor="middle" fill="#111" transform="rotate(-90 406 339.5)">CSI</text>
<polygon points="450.10,240.80 451.24,243.84 454.47,243.98 451.94,246.00 452.80,249.12 450.10,247.33 447.40,249.12 448.26,246.00 445.73,243.98 448.96,243.84" fill="#fbf6fb" stroke="#6a4a7a" stroke-width="0.9"/>
<polygon points="449.30,257.80 450.44,260.84 453.67,260.98 451.14,263.00 452.00,266.12 449.30,264.33 446.60,266.12 447.46,263.00 444.93,260.98 448.16,260.84" fill="#3c0a50" stroke="none" stroke-width="0.8"/>
<circle cx="449.6" cy="279.9" r="2.3" fill="#fff" stroke="#4a3a5a" stroke-width="0.9"/>
<text x="473.2" y="251" font-size="14.2" text-anchor="start" fill="#111">AEA no effect</text>
<text x="473.2" y="268" font-size="14.2" text-anchor="start" fill="#111">AEA effect</text>
<text x="473.2" y="285" font-size="14.2" text-anchor="start" fill="#111">Control</text>
<line x1="453.144" y1="411.2" x2="453.144" y2="429.5" stroke="#555" stroke-width="1.1"/>
<line x1="451.944" y1="411.2" x2="454.344" y2="411.2" stroke="#555" stroke-width="1.1"/>
<line x1="451.944" y1="429.5" x2="454.344" y2="429.5" stroke="#555" stroke-width="1.1"/>
<line x1="456.988" y1="368.2" x2="456.988" y2="407.2" stroke="#7d5a8c" stroke-width="1.1"/>
<line x1="455.788" y1="368.2" x2="458.188" y2="368.2" stroke="#7d5a8c" stroke-width="1.1"/>
<line x1="455.788" y1="407.2" x2="458.188" y2="407.2" stroke="#7d5a8c" stroke-width="1.1"/>
<line x1="460.832" y1="366" x2="460.832" y2="378" stroke="#7d5a8c" stroke-width="1.1"/>
<line x1="459.632" y1="366" x2="462.032" y2="366" stroke="#7d5a8c" stroke-width="1.1"/>
<line x1="459.632" y1="378" x2="462.032" y2="378" stroke="#7d5a8c" stroke-width="1.1"/>
<line x1="464.676" y1="352.3" x2="464.676" y2="392" stroke="#7d5a8c" stroke-width="1.1"/>
<line x1="463.476" y1="352.3" x2="465.876" y2="352.3" stroke="#7d5a8c" stroke-width="1.1"/>
<line x1="463.476" y1="392" x2="465.876" y2="392" stroke="#7d5a8c" stroke-width="1.1"/>
<line x1="472.36400000000003" y1="364" x2="472.36400000000003" y2="374" stroke="#555" stroke-width="1.1"/>
<line x1="471.16400000000004" y1="364" x2="473.564" y2="364" stroke="#555" stroke-width="1.1"/>
<line x1="471.16400000000004" y1="374" x2="473.564" y2="374" stroke="#555" stroke-width="1.1"/>
<line x1="476.208" y1="358" x2="476.208" y2="368" stroke="#555" stroke-width="1.1"/>
<line x1="475.00800000000004" y1="358" x2="477.408" y2="358" stroke="#555" stroke-width="1.1"/>
<line x1="475.00800000000004" y1="368" x2="477.408" y2="368" stroke="#555" stroke-width="1.1"/>
<line x1="480.052" y1="350" x2="480.052" y2="362" stroke="#7d5a8c" stroke-width="1.1"/>
<line x1="478.85200000000003" y1="350" x2="481.252" y2="350" stroke="#7d5a8c" stroke-width="1.1"/>
<line x1="478.85200000000003" y1="362" x2="481.252" y2="362" stroke="#7d5a8c" stroke-width="1.1"/>
<line x1="483.896" y1="335.9" x2="483.896" y2="371.2" stroke="#7d5a8c" stroke-width="1.1"/>
<line x1="482.696" y1="335.9" x2="485.096" y2="335.9" stroke="#7d5a8c" stroke-width="1.1"/>
<line x1="482.696" y1="371.2" x2="485.096" y2="371.2" stroke="#7d5a8c" stroke-width="1.1"/>
<line x1="487.74" y1="332.8" x2="487.74" y2="366.1" stroke="#555" stroke-width="1.1"/>
<line x1="486.54" y1="332.8" x2="488.94" y2="332.8" stroke="#555" stroke-width="1.1"/>
<line x1="486.54" y1="366.1" x2="488.94" y2="366.1" stroke="#555" stroke-width="1.1"/>
<line x1="491.584" y1="323.7" x2="491.584" y2="374.3" stroke="#7d5a8c" stroke-width="1.1"/>
<line x1="490.384" y1="323.7" x2="492.784" y2="323.7" stroke="#7d5a8c" stroke-width="1.1"/>
<line x1="490.384" y1="374.3" x2="492.784" y2="374.3" stroke="#7d5a8c" stroke-width="1.1"/>
<line x1="495.428" y1="323.6" x2="495.428" y2="370.3" stroke="#7d5a8c" stroke-width="1.1"/>
<line x1="494.228" y1="323.6" x2="496.628" y2="323.6" stroke="#7d5a8c" stroke-width="1.1"/>
<line x1="494.228" y1="370.3" x2="496.628" y2="370.3" stroke="#7d5a8c" stroke-width="1.1"/>
<line x1="499.272" y1="336" x2="499.272" y2="348" stroke="#7d5a8c" stroke-width="1.1"/>
<line x1="498.072" y1="336" x2="500.472" y2="336" stroke="#7d5a8c" stroke-width="1.1"/>
<line x1="498.072" y1="348" x2="500.472" y2="348" stroke="#7d5a8c" stroke-width="1.1"/>
<line x1="503.116" y1="336" x2="503.116" y2="346" stroke="#555" stroke-width="1.1"/>
<line x1="501.916" y1="336" x2="504.316" y2="336" stroke="#555" stroke-width="1.1"/>
<line x1="501.916" y1="346" x2="504.316" y2="346" stroke="#555" stroke-width="1.1"/>
<line x1="506.96000000000004" y1="333" x2="506.96000000000004" y2="346" stroke="#7d5a8c" stroke-width="1.1"/>
<line x1="505.76000000000005" y1="333" x2="508.16" y2="333" stroke="#7d5a8c" stroke-width="1.1"/>
<line x1="505.76000000000005" y1="346" x2="508.16" y2="346" stroke="#7d5a8c" stroke-width="1.1"/>
<line x1="510.80400000000003" y1="317.5" x2="510.80400000000003" y2="370.3" stroke="#7d5a8c" stroke-width="1.1"/>
<line x1="509.60400000000004" y1="317.5" x2="512.004" y2="317.5" stroke="#7d5a8c" stroke-width="1.1"/>
<line x1="509.60400000000004" y1="370.3" x2="512.004" y2="370.3" stroke="#7d5a8c" stroke-width="1.1"/>
<line x1="514.648" y1="328" x2="514.648" y2="350.4" stroke="#7d5a8c" stroke-width="1.1"/>
<line x1="513.448" y1="328" x2="515.8480000000001" y2="328" stroke="#7d5a8c" stroke-width="1.1"/>
<line x1="513.448" y1="350.4" x2="515.8480000000001" y2="350.4" stroke="#7d5a8c" stroke-width="1.1"/>
<line x1="518.492" y1="332" x2="518.492" y2="345" stroke="#555" stroke-width="1.1"/>
<line x1="517.2919999999999" y1="332" x2="519.692" y2="332" stroke="#555" stroke-width="1.1"/>
<line x1="517.2919999999999" y1="345" x2="519.692" y2="345" stroke="#555" stroke-width="1.1"/>
<line x1="522.336" y1="333.3" x2="522.336" y2="345" stroke="#555" stroke-width="1.1"/>
<line x1="521.136" y1="333.3" x2="523.5360000000001" y2="333.3" stroke="#555" stroke-width="1.1"/>
<line x1="521.136" y1="345" x2="523.5360000000001" y2="345" stroke="#555" stroke-width="1.1"/>
<line x1="526.1800000000001" y1="327.6" x2="526.1800000000001" y2="347" stroke="#7d5a8c" stroke-width="1.1"/>
<line x1="524.98" y1="327.6" x2="527.3800000000001" y2="327.6" stroke="#7d5a8c" stroke-width="1.1"/>
<line x1="524.98" y1="347" x2="527.3800000000001" y2="347" stroke="#7d5a8c" stroke-width="1.1"/>
<line x1="530.024" y1="326" x2="530.024" y2="348" stroke="#555" stroke-width="1.1"/>
<line x1="528.824" y1="326" x2="531.224" y2="326" stroke="#555" stroke-width="1.1"/>
<line x1="528.824" y1="348" x2="531.224" y2="348" stroke="#555" stroke-width="1.1"/>
<line x1="533.868" y1="318.7" x2="533.868" y2="349.6" stroke="#555" stroke-width="1.1"/>
<line x1="532.668" y1="318.7" x2="535.0680000000001" y2="318.7" stroke="#555" stroke-width="1.1"/>
<line x1="532.668" y1="349.6" x2="535.0680000000001" y2="349.6" stroke="#555" stroke-width="1.1"/>
<line x1="537.712" y1="325.2" x2="537.712" y2="342.3" stroke="#555" stroke-width="1.1"/>
<line x1="536.512" y1="325.2" x2="538.912" y2="325.2" stroke="#555" stroke-width="1.1"/>
<line x1="536.512" y1="342.3" x2="538.912" y2="342.3" stroke="#555" stroke-width="1.1"/>
<line x1="541.556" y1="324.5" x2="541.556" y2="345" stroke="#555" stroke-width="1.1"/>
<line x1="540.356" y1="324.5" x2="542.7560000000001" y2="324.5" stroke="#555" stroke-width="1.1"/>
<line x1="540.356" y1="345" x2="542.7560000000001" y2="345" stroke="#555" stroke-width="1.1"/>
<line x1="545.4" y1="325" x2="545.4" y2="336" stroke="#7d5a8c" stroke-width="1.1"/>
<line x1="544.1999999999999" y1="325" x2="546.6" y2="325" stroke="#7d5a8c" stroke-width="1.1"/>
<line x1="544.1999999999999" y1="336" x2="546.6" y2="336" stroke="#7d5a8c" stroke-width="1.1"/>
<line x1="549.244" y1="312.7" x2="549.244" y2="350" stroke="#7d5a8c" stroke-width="1.1"/>
<line x1="548.044" y1="312.7" x2="550.4440000000001" y2="312.7" stroke="#7d5a8c" stroke-width="1.1"/>
<line x1="548.044" y1="350" x2="550.4440000000001" y2="350" stroke="#7d5a8c" stroke-width="1.1"/>
<line x1="553.088" y1="309.8" x2="553.088" y2="350" stroke="#555" stroke-width="1.1"/>
<line x1="551.8879999999999" y1="309.8" x2="554.288" y2="309.8" stroke="#555" stroke-width="1.1"/>
<line x1="551.8879999999999" y1="350" x2="554.288" y2="350" stroke="#555" stroke-width="1.1"/>
<line x1="556.932" y1="321.6" x2="556.932" y2="338" stroke="#7d5a8c" stroke-width="1.1"/>
<line x1="555.732" y1="321.6" x2="558.1320000000001" y2="321.6" stroke="#7d5a8c" stroke-width="1.1"/>
<line x1="555.732" y1="338" x2="558.1320000000001" y2="338" stroke="#7d5a8c" stroke-width="1.1"/>
<line x1="560.7760000000001" y1="323" x2="560.7760000000001" y2="334" stroke="#7d5a8c" stroke-width="1.1"/>
<line x1="559.576" y1="323" x2="561.9760000000001" y2="323" stroke="#7d5a8c" stroke-width="1.1"/>
<line x1="559.576" y1="334" x2="561.9760000000001" y2="334" stroke="#7d5a8c" stroke-width="1.1"/>
<line x1="564.62" y1="317.2" x2="564.62" y2="330.6" stroke="#7d5a8c" stroke-width="1.1"/>
<line x1="563.42" y1="317.2" x2="565.82" y2="317.2" stroke="#7d5a8c" stroke-width="1.1"/>
<line x1="563.42" y1="330.6" x2="565.82" y2="330.6" stroke="#7d5a8c" stroke-width="1.1"/>
<line x1="568.464" y1="307" x2="568.464" y2="343.2" stroke="#555" stroke-width="1.1"/>
<line x1="567.264" y1="307" x2="569.6640000000001" y2="307" stroke="#555" stroke-width="1.1"/>
<line x1="567.264" y1="343.2" x2="569.6640000000001" y2="343.2" stroke="#555" stroke-width="1.1"/>
<line x1="572.308" y1="315.5" x2="572.308" y2="330" stroke="#7d5a8c" stroke-width="1.1"/>
<line x1="571.108" y1="315.5" x2="573.508" y2="315.5" stroke="#7d5a8c" stroke-width="1.1"/>
<line x1="571.108" y1="330" x2="573.508" y2="330" stroke="#7d5a8c" stroke-width="1.1"/>
<line x1="576.152" y1="316" x2="576.152" y2="328" stroke="#7d5a8c" stroke-width="1.1"/>
<line x1="574.952" y1="316" x2="577.3520000000001" y2="316" stroke="#7d5a8c" stroke-width="1.1"/>
<line x1="574.952" y1="328" x2="577.3520000000001" y2="328" stroke="#7d5a8c" stroke-width="1.1"/>
<line x1="579.996" y1="308" x2="579.996" y2="324" stroke="#7d5a8c" stroke-width="1.1"/>
<line x1="578.7959999999999" y1="308" x2="581.196" y2="308" stroke="#7d5a8c" stroke-width="1.1"/>
<line x1="578.7959999999999" y1="324" x2="581.196" y2="324" stroke="#7d5a8c" stroke-width="1.1"/>
<line x1="583.84" y1="294" x2="583.84" y2="337" stroke="#7d5a8c" stroke-width="1.1"/>
<line x1="582.64" y1="294" x2="585.0400000000001" y2="294" stroke="#7d5a8c" stroke-width="1.1"/>
<line x1="582.64" y1="337" x2="585.0400000000001" y2="337" stroke="#7d5a8c" stroke-width="1.1"/>
<line x1="587.684" y1="292.4" x2="587.684" y2="331.4" stroke="#555" stroke-width="1.1"/>
<line x1="586.4839999999999" y1="292.4" x2="588.884" y2="292.4" stroke="#555" stroke-width="1.1"/>
<line x1="586.4839999999999" y1="331.4" x2="588.884" y2="331.4" stroke="#555" stroke-width="1.1"/>
<line x1="591.528" y1="289.3" x2="591.528" y2="310" stroke="#555" stroke-width="1.1"/>
<line x1="590.328" y1="289.3" x2="592.7280000000001" y2="289.3" stroke="#555" stroke-width="1.1"/>
<line x1="590.328" y1="310" x2="592.7280000000001" y2="310" stroke="#555" stroke-width="1.1"/>
<line x1="595.3720000000001" y1="274" x2="595.3720000000001" y2="308.7" stroke="#7d5a8c" stroke-width="1.1"/>
<line x1="594.172" y1="274" x2="596.5720000000001" y2="274" stroke="#7d5a8c" stroke-width="1.1"/>
<line x1="594.172" y1="308.7" x2="596.5720000000001" y2="308.7" stroke="#7d5a8c" stroke-width="1.1"/>
<line x1="599.216" y1="278" x2="599.216" y2="292" stroke="#555" stroke-width="1.1"/>
<line x1="598.016" y1="278" x2="600.416" y2="278" stroke="#555" stroke-width="1.1"/>
<line x1="598.016" y1="292" x2="600.416" y2="292" stroke="#555" stroke-width="1.1"/>
<line x1="603.06" y1="267.3" x2="603.06" y2="296.7" stroke="#555" stroke-width="1.1"/>
<line x1="601.8599999999999" y1="267.3" x2="604.26" y2="267.3" stroke="#555" stroke-width="1.1"/>
<line x1="601.8599999999999" y1="296.7" x2="604.26" y2="296.7" stroke="#555" stroke-width="1.1"/>
<line x1="606.904" y1="270" x2="606.904" y2="283" stroke="#555" stroke-width="1.1"/>
<line x1="605.704" y1="270" x2="608.104" y2="270" stroke="#555" stroke-width="1.1"/>
<line x1="605.704" y1="283" x2="608.104" y2="283" stroke="#555" stroke-width="1.1"/>
<line x1="610.748" y1="268" x2="610.748" y2="283" stroke="#555" stroke-width="1.1"/>
<line x1="609.548" y1="268" x2="611.9480000000001" y2="268" stroke="#555" stroke-width="1.1"/>
<line x1="609.548" y1="283" x2="611.9480000000001" y2="283" stroke="#555" stroke-width="1.1"/>
<line x1="614.592" y1="265" x2="614.592" y2="285" stroke="#555" stroke-width="1.1"/>
<line x1="613.3919999999999" y1="265" x2="615.792" y2="265" stroke="#555" stroke-width="1.1"/>
<line x1="613.3919999999999" y1="285" x2="615.792" y2="285" stroke="#555" stroke-width="1.1"/>
<line x1="618.436" y1="262" x2="618.436" y2="274" stroke="#7d5a8c" stroke-width="1.1"/>
<line x1="617.236" y1="262" x2="619.6360000000001" y2="262" stroke="#7d5a8c" stroke-width="1.1"/>
<line x1="617.236" y1="274" x2="619.6360000000001" y2="274" stroke="#7d5a8c" stroke-width="1.1"/>
<line x1="622.28" y1="255.3" x2="622.28" y2="276.7" stroke="#555" stroke-width="1.1"/>
<line x1="621.0799999999999" y1="255.3" x2="623.48" y2="255.3" stroke="#555" stroke-width="1.1"/>
<line x1="621.0799999999999" y1="276.7" x2="623.48" y2="276.7" stroke="#555" stroke-width="1.1"/>
<line x1="626.124" y1="258.7" x2="626.124" y2="268.7" stroke="#555" stroke-width="1.1"/>
<line x1="624.924" y1="258.7" x2="627.3240000000001" y2="258.7" stroke="#555" stroke-width="1.1"/>
<line x1="624.924" y1="268.7" x2="627.3240000000001" y2="268.7" stroke="#555" stroke-width="1.1"/>
<line x1="629.9680000000001" y1="257" x2="629.9680000000001" y2="276.7" stroke="#555" stroke-width="1.1"/>
<line x1="628.768" y1="257" x2="631.1680000000001" y2="257" stroke="#555" stroke-width="1.1"/>
<line x1="628.768" y1="276.7" x2="631.1680000000001" y2="276.7" stroke="#555" stroke-width="1.1"/>
<line x1="633.812" y1="252" x2="633.812" y2="262" stroke="#7d5a8c" stroke-width="1.1"/>
<line x1="632.612" y1="252" x2="635.0120000000001" y2="252" stroke="#7d5a8c" stroke-width="1.1"/>
<line x1="632.612" y1="262" x2="635.0120000000001" y2="262" stroke="#7d5a8c" stroke-width="1.1"/>
<line x1="637.656" y1="249" x2="637.656" y2="258" stroke="#555" stroke-width="1.1"/>
<line x1="636.4559999999999" y1="249" x2="638.856" y2="249" stroke="#555" stroke-width="1.1"/>
<line x1="636.4559999999999" y1="258" x2="638.856" y2="258" stroke="#555" stroke-width="1.1"/>
<line x1="641.5" y1="246" x2="641.5" y2="256" stroke="#7d5a8c" stroke-width="1.1"/>
<line x1="640.3" y1="246" x2="642.7" y2="246" stroke="#7d5a8c" stroke-width="1.1"/>
<line x1="640.3" y1="256" x2="642.7" y2="256" stroke="#7d5a8c" stroke-width="1.1"/>
<circle cx="453.14" cy="420" r="2.3" fill="#fff" stroke="#3a2a4a" stroke-width="0.9"/>
<circle cx="456.99" cy="385.9" r="2.3" fill="#fff" stroke="#3a2a4a" stroke-width="0.9"/>
<circle cx="460.83" cy="373.7" r="2.3" fill="#fff" stroke="#3a2a4a" stroke-width="0.9"/>
<circle cx="464.68" cy="370.5" r="2.3" fill="#fff" stroke="#3a2a4a" stroke-width="0.9"/>
<circle cx="468.52" cy="369.4" r="2.3" fill="#fff" stroke="#3a2a4a" stroke-width="0.9"/>
<circle cx="472.36" cy="369.4" r="2.3" fill="#fff" stroke="#3a2a4a" stroke-width="0.9"/>
<circle cx="476.21" cy="363.9" r="2.3" fill="#fff" stroke="#3a2a4a" stroke-width="0.9"/>
<circle cx="480.05" cy="358" r="2.3" fill="#fff" stroke="#3a2a4a" stroke-width="0.9"/>
<circle cx="483.90" cy="351.1" r="2.3" fill="#fff" stroke="#3a2a4a" stroke-width="0.9"/>
<circle cx="487.74" cy="348.7" r="2.3" fill="#fff" stroke="#3a2a4a" stroke-width="0.9"/>
<circle cx="491.58" cy="346.2" r="2.3" fill="#fff" stroke="#3a2a4a" stroke-width="0.9"/>
<circle cx="495.43" cy="345" r="2.3" fill="#fff" stroke="#3a2a4a" stroke-width="0.9"/>
<circle cx="499.27" cy="342.3" r="2.3" fill="#fff" stroke="#3a2a4a" stroke-width="0.9"/>
<circle cx="503.12" cy="341.5" r="2.3" fill="#fff" stroke="#3a2a4a" stroke-width="0.9"/>
<circle cx="506.96" cy="340.7" r="2.3" fill="#fff" stroke="#3a2a4a" stroke-width="0.9"/>
<circle cx="510.80" cy="339.8" r="2.3" fill="#fff" stroke="#3a2a4a" stroke-width="0.9"/>
<circle cx="514.65" cy="339.8" r="2.3" fill="#fff" stroke="#3a2a4a" stroke-width="0.9"/>
<circle cx="518.49" cy="338.6" r="2.3" fill="#fff" stroke="#3a2a4a" stroke-width="0.9"/>
<circle cx="522.34" cy="337.8" r="2.3" fill="#fff" stroke="#3a2a4a" stroke-width="0.9"/>
<circle cx="526.18" cy="337.4" r="2.3" fill="#fff" stroke="#3a2a4a" stroke-width="0.9"/>
<circle cx="530.02" cy="336.2" r="2.3" fill="#fff" stroke="#3a2a4a" stroke-width="0.9"/>
<circle cx="533.87" cy="335.8" r="2.3" fill="#fff" stroke="#3a2a4a" stroke-width="0.9"/>
<circle cx="537.71" cy="332.9" r="2.3" fill="#fff" stroke="#3a2a4a" stroke-width="0.9"/>
<circle cx="541.56" cy="332.6" r="2.3" fill="#fff" stroke="#3a2a4a" stroke-width="0.9"/>
<circle cx="545.40" cy="330.6" r="2.3" fill="#fff" stroke="#3a2a4a" stroke-width="0.9"/>
<circle cx="549.24" cy="329.8" r="2.3" fill="#fff" stroke="#3a2a4a" stroke-width="0.9"/>
<circle cx="553.09" cy="329.8" r="2.3" fill="#fff" stroke="#3a2a4a" stroke-width="0.9"/>
<circle cx="556.93" cy="329" r="2.3" fill="#fff" stroke="#3a2a4a" stroke-width="0.9"/>
<circle cx="560.78" cy="328" r="2.3" fill="#fff" stroke="#3a2a4a" stroke-width="0.9"/>
<circle cx="564.62" cy="326" r="2.3" fill="#fff" stroke="#3a2a4a" stroke-width="0.9"/>
<circle cx="568.46" cy="323.7" r="2.3" fill="#fff" stroke="#3a2a4a" stroke-width="0.9"/>
<circle cx="572.31" cy="322.4" r="2.3" fill="#fff" stroke="#3a2a4a" stroke-width="0.9"/>
<circle cx="576.15" cy="321" r="2.3" fill="#fff" stroke="#3a2a4a" stroke-width="0.9"/>
<circle cx="580.00" cy="319" r="2.3" fill="#fff" stroke="#3a2a4a" stroke-width="0.9"/>
<circle cx="583.84" cy="309.8" r="2.3" fill="#fff" stroke="#3a2a4a" stroke-width="0.9"/>
<circle cx="587.68" cy="308.2" r="2.3" fill="#fff" stroke="#3a2a4a" stroke-width="0.9"/>
<circle cx="591.53" cy="299.3" r="2.3" fill="#fff" stroke="#3a2a4a" stroke-width="0.9"/>
<circle cx="595.37" cy="286.7" r="2.3" fill="#fff" stroke="#3a2a4a" stroke-width="0.9"/>
<circle cx="599.22" cy="285.3" r="2.3" fill="#fff" stroke="#3a2a4a" stroke-width="0.9"/>
<circle cx="603.06" cy="278" r="2.3" fill="#fff" stroke="#3a2a4a" stroke-width="0.9"/>
<circle cx="606.90" cy="276.7" r="2.3" fill="#fff" stroke="#3a2a4a" stroke-width="0.9"/>
<circle cx="610.75" cy="275.3" r="2.3" fill="#fff" stroke="#3a2a4a" stroke-width="0.9"/>
<circle cx="614.59" cy="272" r="2.3" fill="#fff" stroke="#3a2a4a" stroke-width="0.9"/>
<circle cx="618.44" cy="268" r="2.3" fill="#fff" stroke="#3a2a4a" stroke-width="0.9"/>
<circle cx="622.28" cy="265" r="2.3" fill="#fff" stroke="#3a2a4a" stroke-width="0.9"/>
<circle cx="626.12" cy="263" r="2.3" fill="#fff" stroke="#3a2a4a" stroke-width="0.9"/>
<circle cx="629.97" cy="262.3" r="2.3" fill="#fff" stroke="#3a2a4a" stroke-width="0.9"/>
<circle cx="633.81" cy="256.7" r="2.3" fill="#fff" stroke="#3a2a4a" stroke-width="0.9"/>
<circle cx="637.66" cy="253.3" r="2.3" fill="#fff" stroke="#3a2a4a" stroke-width="0.9"/>
<circle cx="641.50" cy="251.3" r="2.3" fill="#fff" stroke="#3a2a4a" stroke-width="0.9"/>
<polygon points="456.99,376.00 458.07,378.90 461.17,379.04 458.75,380.97 459.57,383.96 456.99,382.25 454.40,383.96 455.23,380.97 452.80,379.04 455.90,378.90" fill="#fbf6fb" stroke="#7a5a8a" stroke-width="0.9"/>
<polygon points="460.83,365.60 461.92,368.50 465.02,368.64 462.59,370.57 463.42,373.56 460.83,371.85 458.25,373.56 459.07,370.57 456.65,368.64 459.75,368.50" fill="#fbf6fb" stroke="#7a5a8a" stroke-width="0.9"/>
<polygon points="464.68,365.60 465.76,368.50 468.86,368.64 466.43,370.57 467.26,373.56 464.68,371.85 462.09,373.56 462.92,370.57 460.49,368.64 463.59,368.50" fill="#fbf6fb" stroke="#7a5a8a" stroke-width="0.9"/>
<polygon points="468.52,357.10 469.61,360.00 472.70,360.14 470.28,362.07 471.11,365.06 468.52,363.35 465.93,365.06 466.76,362.07 464.34,360.14 467.43,360.00" fill="#fbf6fb" stroke="#7a5a8a" stroke-width="0.9"/>
<polygon points="480.05,351.00 481.14,353.90 484.24,354.04 481.81,355.97 482.64,358.96 480.05,357.25 477.47,358.96 478.29,355.97 475.87,354.04 478.97,353.90" fill="#fbf6fb" stroke="#7a5a8a" stroke-width="0.9"/>
<polygon points="483.90,351.60 484.98,354.50 488.08,354.64 485.65,356.57 486.48,359.56 483.90,357.85 481.31,359.56 482.14,356.57 479.71,354.64 482.81,354.50" fill="#fbf6fb" stroke="#7a5a8a" stroke-width="0.9"/>
<polygon points="491.58,329.60 492.67,332.50 495.77,332.64 493.34,334.57 494.17,337.56 491.58,335.85 489.00,337.56 489.83,334.57 487.40,332.64 490.50,332.50" fill="#fbf6fb" stroke="#7a5a8a" stroke-width="0.9"/>
<polygon points="495.43,355.20 496.51,358.10 499.61,358.24 497.19,360.17 498.01,363.16 495.43,361.45 492.84,363.16 493.67,360.17 491.24,358.24 494.34,358.10" fill="#fbf6fb" stroke="#7a5a8a" stroke-width="0.9"/>
<polygon points="499.27,337.10 500.36,340.00 503.46,340.14 501.03,342.07 501.86,345.06 499.27,343.35 496.69,345.06 497.51,342.07 495.09,340.14 498.19,340.00" fill="#fbf6fb" stroke="#7a5a8a" stroke-width="0.9"/>
<polygon points="506.96,333.80 508.05,336.70 511.14,336.84 508.72,338.77 509.55,341.76 506.96,340.05 504.37,341.76 505.20,338.77 502.78,336.84 505.87,336.70" fill="#fbf6fb" stroke="#7a5a8a" stroke-width="0.9"/>
<polygon points="510.80,357.40 511.89,360.30 514.99,360.44 512.56,362.37 513.39,365.36 510.80,363.65 508.22,365.36 509.05,362.37 506.62,360.44 509.72,360.30" fill="#fbf6fb" stroke="#7a5a8a" stroke-width="0.9"/>
<polygon points="514.65,350.90 515.73,353.80 518.83,353.94 516.41,355.87 517.23,358.86 514.65,357.15 512.06,358.86 512.89,355.87 510.46,353.94 513.56,353.80" fill="#fbf6fb" stroke="#7a5a8a" stroke-width="0.9"/>
<polygon points="526.18,339.90 527.27,342.80 530.36,342.94 527.94,344.87 528.77,347.86 526.18,346.15 523.59,347.86 524.42,344.87 522.00,342.94 525.09,342.80" fill="#fbf6fb" stroke="#7a5a8a" stroke-width="0.9"/>
<polygon points="545.40,322.50 546.49,325.40 549.58,325.54 547.16,327.47 547.99,330.46 545.40,328.75 542.81,330.46 543.64,327.47 541.22,325.54 544.31,325.40" fill="#fbf6fb" stroke="#7a5a8a" stroke-width="0.9"/>
<polygon points="549.24,333.50 550.33,336.40 553.43,336.54 551.00,338.47 551.83,341.46 549.24,339.75 546.66,341.46 547.49,338.47 545.06,336.54 548.16,336.40" fill="#fbf6fb" stroke="#7a5a8a" stroke-width="0.9"/>
<polygon points="556.93,325.60 558.02,328.50 561.12,328.64 558.69,330.57 559.52,333.56 556.93,331.85 554.35,333.56 555.17,330.57 552.75,328.64 555.85,328.50" fill="#fbf6fb" stroke="#7a5a8a" stroke-width="0.9"/>
<polygon points="560.78,326.20 561.86,329.10 564.96,329.24 562.53,331.17 563.36,334.16 560.78,332.45 558.19,334.16 559.02,331.17 556.59,329.24 559.69,329.10" fill="#fbf6fb" stroke="#7a5a8a" stroke-width="0.9"/>
<polygon points="564.62,318.90 565.71,321.80 568.80,321.94 566.38,323.87 567.21,326.86 564.62,325.15 562.03,326.86 562.86,323.87 560.44,321.94 563.53,321.80" fill="#fbf6fb" stroke="#7a5a8a" stroke-width="0.9"/>
<polygon points="572.31,317.60 573.39,320.50 576.49,320.64 574.07,322.57 574.89,325.56 572.31,323.85 569.72,325.56 570.55,322.57 568.12,320.64 571.22,320.50" fill="#fbf6fb" stroke="#7a5a8a" stroke-width="0.9"/>
<polygon points="576.15,316.80 577.24,319.70 580.34,319.84 577.91,321.77 578.74,324.76 576.15,323.05 573.57,324.76 574.39,321.77 571.97,319.84 575.07,319.70" fill="#fbf6fb" stroke="#7a5a8a" stroke-width="0.9"/>
<polygon points="580.00,309.50 581.08,312.40 584.18,312.54 581.75,314.47 582.58,317.46 580.00,315.75 577.41,317.46 578.24,314.47 575.81,312.54 578.91,312.40" fill="#fbf6fb" stroke="#7a5a8a" stroke-width="0.9"/>
<polygon points="583.84,318.90 584.93,321.80 588.02,321.94 585.60,323.87 586.43,326.86 583.84,325.15 581.25,326.86 582.08,323.87 579.66,321.94 582.75,321.80" fill="#fbf6fb" stroke="#7a5a8a" stroke-width="0.9"/>
<polygon points="595.37,267.60 596.46,270.50 599.56,270.64 597.13,272.57 597.96,275.56 595.37,273.85 592.79,275.56 593.61,272.57 591.19,270.64 594.29,270.50" fill="#fbf6fb" stroke="#7a5a8a" stroke-width="0.9"/>
<polygon points="610.75,264.30 611.83,267.20 614.93,267.34 612.51,269.27 613.33,272.26 610.75,270.55 608.16,272.26 608.99,269.27 606.56,267.34 609.66,267.20" fill="#fbf6fb" stroke="#7a5a8a" stroke-width="0.9"/>
<polygon points="618.44,260.30 619.52,263.20 622.62,263.34 620.19,265.27 621.02,268.26 618.44,266.55 615.85,268.26 616.68,265.27 614.25,263.34 617.35,263.20" fill="#fbf6fb" stroke="#7a5a8a" stroke-width="0.9"/>
<polygon points="633.81,250.60 634.90,253.50 638.00,253.64 635.57,255.57 636.40,258.56 633.81,256.85 631.23,258.56 632.05,255.57 629.63,253.64 632.73,253.50" fill="#fbf6fb" stroke="#7a5a8a" stroke-width="0.9"/>
<polygon points="641.50,244.60 642.59,247.50 645.68,247.64 643.26,249.57 644.09,252.56 641.50,250.85 638.91,252.56 639.74,249.57 637.32,247.64 640.41,247.50" fill="#fbf6fb" stroke="#7a5a8a" stroke-width="0.9"/>
<polygon points="453.14,390.00 454.23,392.90 457.33,393.04 454.90,394.97 455.73,397.96 453.14,396.25 450.56,397.96 451.39,394.97 448.96,393.04 452.06,392.90" fill="#3c0a50" stroke="none" stroke-width="0.8"/>
<polygon points="472.36,371.70 473.45,374.60 476.55,374.74 474.12,376.67 474.95,379.66 472.36,377.95 469.78,379.66 470.61,376.67 468.18,374.74 471.28,374.60" fill="#3c0a50" stroke="none" stroke-width="0.8"/>
<polygon points="476.21,330.80 477.29,333.70 480.39,333.84 477.97,335.77 478.79,338.76 476.21,337.05 473.62,338.76 474.45,335.77 472.02,333.84 475.12,333.70" fill="#3c0a50" stroke="none" stroke-width="0.8"/>
<polygon points="487.74,372.30 488.83,375.20 491.92,375.34 489.50,377.27 490.33,380.26 487.74,378.55 485.15,380.26 485.98,377.27 483.56,375.34 486.65,375.20" fill="#3c0a50" stroke="none" stroke-width="0.8"/>
<polygon points="503.12,348.90 504.20,351.80 507.30,351.94 504.87,353.87 505.70,356.86 503.12,355.15 500.53,356.86 501.36,353.87 498.93,351.94 502.03,351.80" fill="#3c0a50" stroke="none" stroke-width="0.8"/>
<polygon points="518.49,347.60 519.58,350.50 522.68,350.64 520.25,352.57 521.08,355.56 518.49,353.85 515.91,355.56 516.73,352.57 514.31,350.64 517.41,350.50" fill="#3c0a50" stroke="none" stroke-width="0.8"/>
<polygon points="522.34,344.40 523.42,347.30 526.52,347.44 524.09,349.37 524.92,352.36 522.34,350.65 519.75,352.36 520.58,349.37 518.15,347.44 521.25,347.30" fill="#3c0a50" stroke="none" stroke-width="0.8"/>
<polygon points="530.02,347.60 531.11,350.50 534.21,350.64 531.78,352.57 532.61,355.56 530.02,353.85 527.44,355.56 528.27,352.57 525.84,350.64 528.94,350.50" fill="#3c0a50" stroke="none" stroke-width="0.8"/>
<polygon points="533.87,298.40 534.95,301.30 538.05,301.44 535.63,303.37 536.45,306.36 533.87,304.65 531.28,306.36 532.11,303.37 529.68,301.44 532.78,301.30" fill="#3c0a50" stroke="none" stroke-width="0.8"/>
<polygon points="537.71,344.40 538.80,347.30 541.90,347.44 539.47,349.37 540.30,352.36 537.71,350.65 535.13,352.36 535.95,349.37 533.53,347.44 536.63,347.30" fill="#3c0a50" stroke="none" stroke-width="0.8"/>
<polygon points="541.56,342.00 542.64,344.90 545.74,345.04 543.31,346.97 544.14,349.96 541.56,348.25 538.97,349.96 539.80,346.97 537.37,345.04 540.47,344.90" fill="#3c0a50" stroke="none" stroke-width="0.8"/>
<polygon points="553.09,360.40 554.17,363.30 557.27,363.44 554.85,365.37 555.67,368.36 553.09,366.65 550.50,368.36 551.33,365.37 548.90,363.44 552.00,363.30" fill="#3c0a50" stroke="none" stroke-width="0.8"/>
<polygon points="568.46,256.50 569.55,259.40 572.65,259.54 570.22,261.47 571.05,264.46 568.46,262.75 565.88,264.46 566.71,261.47 564.28,259.54 567.38,259.40" fill="#3c0a50" stroke="none" stroke-width="0.8"/>
<polygon points="587.68,279.00 588.77,281.90 591.87,282.04 589.44,283.97 590.27,286.96 587.68,285.25 585.10,286.96 585.93,283.97 583.50,282.04 586.60,281.90" fill="#3c0a50" stroke="none" stroke-width="0.8"/>
<polygon points="591.53,331.60 592.61,334.50 595.71,334.64 593.29,336.57 594.11,339.56 591.53,337.85 588.94,339.56 589.77,336.57 587.34,334.64 590.44,334.50" fill="#3c0a50" stroke="none" stroke-width="0.8"/>
<polygon points="599.22,272.30 600.30,275.20 603.40,275.34 600.97,277.27 601.80,280.26 599.22,278.55 596.63,280.26 597.46,277.27 595.03,275.34 598.13,275.20" fill="#3c0a50" stroke="none" stroke-width="0.8"/>
<polygon points="603.06,300.30 604.15,303.20 607.24,303.34 604.82,305.27 605.65,308.26 603.06,306.55 600.47,308.26 601.30,305.27 598.88,303.34 601.97,303.20" fill="#3c0a50" stroke="none" stroke-width="0.8"/>
<polygon points="606.90,261.30 607.99,264.20 611.09,264.34 608.66,266.27 609.49,269.26 606.90,267.55 604.32,269.26 605.15,266.27 602.72,264.34 605.82,264.20" fill="#3c0a50" stroke="none" stroke-width="0.8"/>
<polygon points="614.59,292.30 615.68,295.20 618.78,295.34 616.35,297.27 617.18,300.26 614.59,298.55 612.01,300.26 612.83,297.27 610.41,295.34 613.51,295.20" fill="#3c0a50" stroke="none" stroke-width="0.8"/>
<polygon points="622.28,365.30 623.37,368.20 626.46,368.34 624.04,370.27 624.87,373.26 622.28,371.55 619.69,373.26 620.52,370.27 618.10,368.34 621.19,368.20" fill="#3c0a50" stroke="none" stroke-width="0.8"/>
<polygon points="626.12,326.90 627.21,329.80 630.31,329.94 627.88,331.87 628.71,334.86 626.12,333.15 623.54,334.86 624.37,331.87 621.94,329.94 625.04,329.80" fill="#3c0a50" stroke="none" stroke-width="0.8"/>
<polygon points="629.97,278.30 631.05,281.20 634.15,281.34 631.73,283.27 632.55,286.26 629.97,284.55 627.38,286.26 628.21,283.27 625.78,281.34 628.88,281.20" fill="#3c0a50" stroke="none" stroke-width="0.8"/>
<polygon points="637.66,290.90 638.74,293.80 641.84,293.94 639.41,295.87 640.24,298.86 637.66,297.15 635.07,298.86 635.90,295.87 633.47,293.94 636.57,293.80" fill="#3c0a50" stroke="none" stroke-width="0.8"/>
<text x="0.8" y="540.7" font-size="16" text-anchor="start" fill="#111" font-weight="bold">D</text>
<line x1="71.4" y1="553.9" x2="71.4" y2="586.8" stroke="#444" stroke-width="1.1"/>
<line x1="71.4" y1="594.6" x2="71.4" y2="761.2" stroke="#444" stroke-width="1.1"/>
<line x1="62.6" y1="595.4" x2="79.8" y2="578.4" stroke="#444" stroke-width="1.1"/>
<line x1="62.6" y1="601.6" x2="79.8" y2="585" stroke="#444" stroke-width="1.1"/>
<line x1="68.4" y1="621.2" x2="71.4" y2="621.2" stroke="#444" stroke-width="1.1"/>
<line x1="68.7" y1="761.2" x2="169.5" y2="761.2" stroke="#444" stroke-width="1.1"/>
<text x="61" y="588.5" font-size="14.3" text-anchor="end" fill="#111">1,0</text>
<text x="61" y="625.8" font-size="14.3" text-anchor="end" fill="#111">0,5</text>
<text x="61" y="766" font-size="14.3" text-anchor="end" fill="#111">0,0</text>
<rect x="85.6" y="644" width="21" height="117.20000000000005" fill="#b5b5ab" stroke="#8e8e86" stroke-width="0.8"/>
<rect x="110.1" y="671.7" width="20.6" height="89.5" fill="#4a004f" stroke="#3a003f" stroke-width="0.8"/>
<rect x="134.4" y="655.3" width="20.8" height="105.90000000000009" fill="#b5b5ab" stroke="#8e8e86" stroke-width="0.8"/>
<line x1="95.8" y1="624.2" x2="95.8" y2="644" stroke="#333" stroke-width="1.1"/>
<line x1="94.6" y1="624.2" x2="97.0" y2="624.2" stroke="#333" stroke-width="1.1"/>
<line x1="120.3" y1="655.3" x2="120.3" y2="671.7" stroke="#333" stroke-width="1.1"/>
<line x1="119.1" y1="655.3" x2="121.5" y2="655.3" stroke="#333" stroke-width="1.1"/>
<line x1="144.6" y1="638.3" x2="144.6" y2="655.3" stroke="#333" stroke-width="1.1"/>
<line x1="143.4" y1="638.3" x2="145.79999999999998" y2="638.3" stroke="#333" stroke-width="1.1"/>
<line x1="95.9" y1="761.2" x2="95.9" y2="764.7" stroke="#444" stroke-width="1.1"/>
<line x1="120.5" y1="761.2" x2="120.5" y2="764.7" stroke="#444" stroke-width="1.1"/>
<line x1="144.6" y1="761.2" x2="144.6" y2="764.7" stroke="#444" stroke-width="1.1"/>
<text x="121.7" y="651.5" font-size="14.2" text-anchor="middle" fill="#111">*</text>
<text x="30" y="658" font-size="14.2" text-anchor="middle" fill="#111" transform="rotate(-90 30 658)">CSI</text>
<text x="101.4" y="777" font-size="14.2" text-anchor="end" fill="#111" transform="rotate(-45 101.4 777)">Control</text>
<text x="126.0" y="777" font-size="14.2" text-anchor="end" fill="#111" transform="rotate(-45 126.0 777)">AEA</text>
<text x="150.1" y="777" font-size="14.2" text-anchor="end" fill="#111" transform="rotate(-45 150.1 777)">Recovery</text>
<text x="209" y="541.2" font-size="16" text-anchor="start" fill="#111" font-weight="bold">E</text>
<line x1="269.6" y1="761.2" x2="476.6" y2="553.8" stroke="#888" stroke-width="1.2" stroke-dasharray="1.1,3.7"/>
<rect x="269.6" y="553.8" width="207.0" height="207.4000000000001" fill="none" stroke="#444" stroke-width="1.2"/>
<line x1="266.6" y1="553.8" x2="269.6" y2="553.8" stroke="#444" stroke-width="1.1"/>
<text x="234.6" y="558.4" font-size="13.8" text-anchor="start" fill="#111">10<tspan font-size="10" dy="-4.8">1</tspan></text>
<line x1="266.6" y1="605.65" x2="269.6" y2="605.65" stroke="#444" stroke-width="1.1"/>
<text x="234.6" y="610.25" font-size="13.8" text-anchor="start" fill="#111">10<tspan font-size="10" dy="-4.8">0</tspan></text>
<line x1="266.6" y1="657.5" x2="269.6" y2="657.5" stroke="#444" stroke-width="1.1"/>
<text x="234.6" y="662.1" font-size="13.8" text-anchor="start" fill="#111">10<tspan font-size="10" dy="-4.8">-1</tspan></text>
<line x1="266.6" y1="709.3499999999999" x2="269.6" y2="709.3499999999999" stroke="#444" stroke-width="1.1"/>
<text x="234.6" y="713.9499999999999" font-size="13.8" text-anchor="start" fill="#111">10<tspan font-size="10" dy="-4.8">-2</tspan></text>
<line x1="266.6" y1="761.1999999999999" x2="269.6" y2="761.1999999999999" stroke="#444" stroke-width="1.1"/>
<text x="234.6" y="765.8" font-size="13.8" text-anchor="start" fill="#111">10<tspan font-size="10" dy="-4.8">-3</tspan></text>
<line x1="269.6" y1="761.2" x2="269.6" y2="764.2" stroke="#444" stroke-width="1.1"/>
<text x="269.8" y="783.4" font-size="13.8" text-anchor="middle" fill="#111">10<tspan font-size="10" dy="-4.8">-3</tspan></text>
<line x1="321.35" y1="761.2" x2="321.35" y2="764.2" stroke="#444" stroke-width="1.1"/>
<text x="321.55" y="783.4" font-size="13.8" text-anchor="middle" fill="#111">10<tspan font-size="10" dy="-4.8">-2</tspan></text>
<line x1="373.1" y1="761.2" x2="373.1" y2="764.2" stroke="#444" stroke-width="1.1"/>
<text x="373.3" y="783.4" font-size="13.8" text-anchor="middle" fill="#111">10<tspan font-size="10" dy="-4.8">-1</tspan></text>
<line x1="424.85" y1="761.2" x2="424.85" y2="764.2" stroke="#444" stroke-width="1.1"/>
<text x="425.05" y="783.4" font-size="13.8" text-anchor="middle" fill="#111">10<tspan font-size="10" dy="-4.8">0</tspan></text>
<line x1="476.6" y1="761.2" x2="476.6" y2="764.2" stroke="#444" stroke-width="1.1"/>
<text x="476.8" y="783.4" font-size="13.8" text-anchor="middle" fill="#111">10<tspan font-size="10" dy="-4.8">1</tspan></text>
<text x="373.4" y="799" font-size="14.2" text-anchor="middle" fill="#111">Spike count control</text>
<text x="224.3" y="658.1" font-size="14.2" text-anchor="middle" fill="#111" transform="rotate(-90 224.3 658.1)">Spike count AEA</text>
<circle cx="470.6" cy="556.8" r="3.9" fill="none" stroke="#e02424" stroke-width="1.3"/>
<circle cx="468.9" cy="561.9" r="3.9" fill="none" stroke="#e02424" stroke-width="1.3"/>
<circle cx="462.1" cy="567" r="3.9" fill="none" stroke="#e02424" stroke-width="1.3"/>
<circle cx="457.8" cy="571.3" r="3.9" fill="none" stroke="#e02424" stroke-width="1.3"/>
<circle cx="433.1" cy="571.3" r="3.9" fill="none" stroke="#e02424" stroke-width="1.3"/>
<circle cx="451" cy="581.5" r="3.9" fill="none" stroke="#e02424" stroke-width="1.3"/>
<circle cx="445.1" cy="588.3" r="3.9" fill="none" stroke="#e02424" stroke-width="1.3"/>
<circle cx="409.3" cy="585.8" r="3.9" fill="none" stroke="#e02424" stroke-width="1.3"/>
<circle cx="405" cy="593.4" r="3.9" fill="none" stroke="#e02424" stroke-width="1.3"/>
<circle cx="427.2" cy="585.8" r="3.9" fill="none" stroke="#e02424" stroke-width="1.3"/>
<circle cx="422.1" cy="596" r="3.9" fill="none" stroke="#e02424" stroke-width="1.3"/>
<circle cx="387.1" cy="593.4" r="3.9" fill="none" stroke="#e02424" stroke-width="1.3"/>
<circle cx="421.2" cy="602.8" r="3.9" fill="none" stroke="#e02424" stroke-width="1.3"/>
<circle cx="416.1" cy="608.8" r="3.9" fill="none" stroke="#e02424" stroke-width="1.3"/>
<circle cx="413.6" cy="612.2" r="3.9" fill="none" stroke="#e02424" stroke-width="1.3"/>
<circle cx="423.8" cy="612.2" r="3.9" fill="none" stroke="#e02424" stroke-width="1.3"/>
<circle cx="433.1" cy="622.4" r="3.9" fill="none" stroke="#e02424" stroke-width="1.3"/>
<circle cx="422.9" cy="624.1" r="3.9" fill="none" stroke="#e02424" stroke-width="1.3"/>
<circle cx="411" cy="627.5" r="3.9" fill="none" stroke="#e02424" stroke-width="1.3"/>
<circle cx="393.1" cy="633.5" r="3.9" fill="none" stroke="#e02424" stroke-width="1.3"/>
<circle cx="421.2" cy="642" r="3.9" fill="none" stroke="#e02424" stroke-width="1.3"/>
<circle cx="406.7" cy="642" r="3.9" fill="none" stroke="#e02424" stroke-width="1.3"/>
<circle cx="439.1" cy="652.2" r="3.9" fill="none" stroke="#e02424" stroke-width="1.3"/>
<circle cx="448.5" cy="657.3" r="3.9" fill="none" stroke="#e02424" stroke-width="1.3"/>
<circle cx="391.4" cy="657.3" r="3.9" fill="none" stroke="#e02424" stroke-width="1.3"/>
<circle cx="406.7" cy="657.3" r="3.9" fill="none" stroke="#e02424" stroke-width="1.3"/>
<circle cx="372.7" cy="657.3" r="3.9" fill="none" stroke="#e02424" stroke-width="1.3"/>
<circle cx="411.5" cy="663.9" r="3.9" fill="none" stroke="#e02424" stroke-width="1.3"/>
<circle cx="410.2" cy="673.1" r="3.9" fill="none" stroke="#e02424" stroke-width="1.3"/>
<circle cx="457.7" cy="672.8" r="3.9" fill="none" stroke="#e02424" stroke-width="1.3"/>
<circle cx="428.4" cy="688.7" r="3.9" fill="none" stroke="#e02424" stroke-width="1.3"/>
<circle cx="427.1" cy="591" r="3.9" fill="none" stroke="#e02424" stroke-width="1.3"/>
<circle cx="416.9" cy="610.7" r="3.9" fill="none" stroke="#e02424" stroke-width="1.3"/>
<circle cx="419.3" cy="608.3" r="3.9" fill="none" stroke="#e02424" stroke-width="1.3"/>
<circle cx="424.2" cy="610.5" r="3.9" fill="none" stroke="#e02424" stroke-width="1.3"/>
<circle cx="420" cy="605" r="3.9" fill="none" stroke="#e02424" stroke-width="1.3"/>
<circle cx="425.5" cy="599" r="3.9" fill="none" stroke="#e02424" stroke-width="1.3"/>
<circle cx="467.2" cy="558.2" r="3.9" fill="none" stroke="#2020cc" stroke-width="1.3"/>
<circle cx="452.7" cy="566.7" r="3.9" fill="none" stroke="#2020cc" stroke-width="1.3"/>
<circle cx="447.3" cy="576.4" r="3.9" fill="none" stroke="#2020cc" stroke-width="1.3"/>
<circle cx="452.7" cy="584.9" r="3.9" fill="none" stroke="#2020cc" stroke-width="1.3"/>
<circle cx="444.2" cy="590" r="3.9" fill="none" stroke="#2020cc" stroke-width="1.3"/>
<circle cx="435.7" cy="591.7" r="3.9" fill="none" stroke="#2020cc" stroke-width="1.3"/>
<circle cx="435.7" cy="596" r="3.9" fill="none" stroke="#2020cc" stroke-width="1.3"/>
<circle cx="426.3" cy="590.5" r="3.9" fill="none" stroke="#2020cc" stroke-width="1.3"/>
<circle cx="384.6" cy="586.6" r="3.9" fill="none" stroke="#2020cc" stroke-width="1.3"/>
<circle cx="380" cy="593.4" r="3.9" fill="none" stroke="#2020cc" stroke-width="1.3"/>
<circle cx="385.1" cy="596.8" r="3.9" fill="none" stroke="#2020cc" stroke-width="1.3"/>
<circle cx="411.8" cy="603.7" r="3.9" fill="none" stroke="#2020cc" stroke-width="1.3"/>
<circle cx="413.6" cy="606.2" r="3.9" fill="none" stroke="#2020cc" stroke-width="1.3"/>
<circle cx="424.6" cy="610.5" r="3.9" fill="none" stroke="#2020cc" stroke-width="1.3"/>
<circle cx="400.8" cy="609.6" r="3.9" fill="none" stroke="#2020cc" stroke-width="1.3"/>
<circle cx="397.4" cy="613.9" r="3.9" fill="none" stroke="#2020cc" stroke-width="1.3"/>
<circle cx="404.2" cy="617.3" r="3.9" fill="none" stroke="#2020cc" stroke-width="1.3"/>
<circle cx="423.8" cy="621.6" r="3.9" fill="none" stroke="#2020cc" stroke-width="1.3"/>
<circle cx="396.5" cy="625" r="3.9" fill="none" stroke="#2020cc" stroke-width="1.3"/>
<circle cx="396.5" cy="627.5" r="3.9" fill="none" stroke="#2020cc" stroke-width="1.3"/>
<circle cx="380.3" cy="627.5" r="3.9" fill="none" stroke="#2020cc" stroke-width="1.3"/>
<circle cx="381.2" cy="630.1" r="3.9" fill="none" stroke="#2020cc" stroke-width="1.3"/>
<circle cx="405" cy="633.5" r="3.9" fill="none" stroke="#2020cc" stroke-width="1.3"/>
<circle cx="402.5" cy="638.6" r="3.9" fill="none" stroke="#2020cc" stroke-width="1.3"/>
<circle cx="408.4" cy="647.1" r="3.9" fill="none" stroke="#2020cc" stroke-width="1.3"/>
<circle cx="370.1" cy="648" r="3.9" fill="none" stroke="#2020cc" stroke-width="1.3"/>
<circle cx="292.7" cy="737.8" r="3.9" fill="none" stroke="#2020cc" stroke-width="1.3"/>
<circle cx="332.8" cy="666.8" r="3.9" fill="none" stroke="#2020cc" stroke-width="1.3"/>
<circle cx="328.7" cy="674.1" r="3.9" fill="none" stroke="#2020cc" stroke-width="1.3"/>
<circle cx="341.4" cy="674.1" r="3.9" fill="none" stroke="#2020cc" stroke-width="1.3"/>
<circle cx="348.4" cy="677.3" r="3.9" fill="none" stroke="#2020cc" stroke-width="1.3"/>
<circle cx="348.4" cy="697.6" r="3.9" fill="none" stroke="#2020cc" stroke-width="1.3"/>
<circle cx="360.5" cy="675.7" r="3.9" fill="none" stroke="#2020cc" stroke-width="1.3"/>
<circle cx="368.5" cy="677.3" r="3.9" fill="none" stroke="#2020cc" stroke-width="1.3"/>
<circle cx="377.4" cy="680.1" r="3.9" fill="none" stroke="#2020cc" stroke-width="1.3"/>
<circle cx="364.7" cy="688.7" r="3.9" fill="none" stroke="#2020cc" stroke-width="1.3"/>
<circle cx="365.6" cy="665.5" r="3.9" fill="none" stroke="#2020cc" stroke-width="1.3"/>
<circle cx="360.5" cy="655" r="3.9" fill="none" stroke="#2020cc" stroke-width="1.3"/>
<circle cx="363.1" cy="649.6" r="3.9" fill="none" stroke="#2020cc" stroke-width="1.3"/>
<circle cx="382.2" cy="713.6" r="3.9" fill="none" stroke="#2020cc" stroke-width="1.3"/>
<circle cx="414.7" cy="706.9" r="3.9" fill="none" stroke="#2020cc" stroke-width="1.3"/>
<circle cx="443.3" cy="691.3" r="3.9" fill="none" stroke="#2020cc" stroke-width="1.3"/>
<circle cx="457" cy="668.7" r="3.9" fill="none" stroke="#2020cc" stroke-width="1.3"/>
<circle cx="412.5" cy="604.5" r="3.9" fill="none" stroke="#2020cc" stroke-width="1.3"/>
<circle cx="283.3" cy="568.4" r="3.9" fill="none" stroke="#e02424" stroke-width="1.3"/>
<circle cx="283.3" cy="586" r="3.9" fill="none" stroke="#2020cc" stroke-width="1.3"/>
<text x="307.5" y="573.3" font-size="14.2" text-anchor="start" fill="#111">Deviant</text>
<text x="307.5" y="590.7" font-size="14.2" text-anchor="start" fill="#111">Standard</text>
<text x="515" y="541.3" font-size="16" text-anchor="start" fill="#111" font-weight="bold">F</text>
<line x1="572" y1="553.8" x2="572" y2="761.3" stroke="#444" stroke-width="1.1"/>
<line x1="569.6" y1="761.3" x2="674" y2="761.3" stroke="#444" stroke-width="1.1"/>
<line x1="569" y1="554.1" x2="572" y2="554.1" stroke="#444" stroke-width="1.1"/>
<text x="562.3" y="559.1" font-size="14.3" text-anchor="end" fill="#111">200</text>
<line x1="569" y1="657.7" x2="572" y2="657.7" stroke="#444" stroke-width="1.1"/>
<text x="562.3" y="662.7" font-size="14.3" text-anchor="end" fill="#111">100</text>
<line x1="569" y1="761.3" x2="572" y2="761.3" stroke="#444" stroke-width="1.1"/>
<text x="562.3" y="766.3" font-size="14.3" text-anchor="end" fill="#111">0</text>
<rect x="596.3" y="729.6" width="20.2" height="31.699999999999932" fill="#ff0a0a"/>
<rect x="630.1" y="655.6" width="20.2" height="105.69999999999993" fill="#0505f5"/>
<line x1="606.5" y1="704.3" x2="606.5" y2="729.6" stroke="#e83030" stroke-width="1"/>
<line x1="605.3" y1="704.3" x2="607.7" y2="704.3" stroke="#e83030" stroke-width="1.1"/>
<line x1="640.1" y1="611.1" x2="640.1" y2="655.6" stroke="#4a4ad8" stroke-width="1.1"/>
<line x1="638.9" y1="611.1" x2="641.3" y2="611.1" stroke="#4a4ad8" stroke-width="1.1"/>
<text x="639.3" y="606.5" font-size="14.2" text-anchor="middle" fill="#111">*</text>
<line x1="606.6" y1="761.3" x2="606.6" y2="764.8" stroke="#444" stroke-width="1.1"/>
<line x1="640" y1="761.3" x2="640" y2="764.8" stroke="#444" stroke-width="1.1"/>
<text x="537.5" y="656" font-size="14.2" text-anchor="middle" fill="#111" transform="rotate(-90 537.5 656)">% Change Spk Count</text>
<text x="610" y="775.5" font-size="14.2" text-anchor="end" fill="#111" transform="rotate(-45 610 775.5)">Dev</text>
<text x="644" y="776" font-size="14.2" text-anchor="end" fill="#111" transform="rotate(-45 644 776)">Std</text>
<text x="0.5" y="824" font-size="16" text-anchor="start" fill="#111" font-weight="bold">G</text>
<line x1="227" y1="837" x2="227" y2="954.6" stroke="#444" stroke-width="1.1"/>
<line x1="227" y1="954.6" x2="546.5" y2="954.6" stroke="#444" stroke-width="1.1"/>
<line x1="224" y1="954.6" x2="227" y2="954.6" stroke="#444" stroke-width="1.1"/>
<text x="216.5" y="959.6" font-size="14.3" text-anchor="end" fill="#111">0</text>
<line x1="224" y1="915.4" x2="227" y2="915.4" stroke="#444" stroke-width="1.1"/>
<text x="216.5" y="920.4" font-size="14.3" text-anchor="end" fill="#111">1</text>
<line x1="224" y1="876.2" x2="227" y2="876.2" stroke="#444" stroke-width="1.1"/>
<text x="216.5" y="881.2" font-size="14.3" text-anchor="end" fill="#111">2</text>
<line x1="224" y1="837.0" x2="227" y2="837.0" stroke="#444" stroke-width="1.1"/>
<text x="216.5" y="842.0" font-size="14.3" text-anchor="end" fill="#111">3</text>
<line x1="230" y1="954.6" x2="230" y2="957.6" stroke="#444" stroke-width="1.1"/>
<line x1="544" y1="954.6" x2="544" y2="951.6" stroke="#444" stroke-width="1.1"/>
<text x="230" y="978" font-size="14.3" text-anchor="middle" fill="#111">0</text>
<text x="544.5" y="978" font-size="14.3" text-anchor="middle" fill="#111">100</text>
<text x="383.9" y="980" font-size="14.2" text-anchor="middle" fill="#111">Time (s)</text>
<text x="196.8" y="896" font-size="14.2" text-anchor="middle" fill="#111" transform="rotate(-90 196.8 896)">Mean Spks/trial</text>
<circle cx="230.0" cy="873.7" r="1.95" fill="#9a9ab2"/>
<circle cx="230.7" cy="898.0" r="1.95" fill="#9a9ab2"/>
<circle cx="231.5" cy="891.8" r="1.95" fill="#9a9ab2"/>
<circle cx="232.2" cy="906.1" r="1.95" fill="#9a9ab2"/>
<circle cx="232.9" cy="896.8" r="1.95" fill="#9a9ab2"/>
<circle cx="233.7" cy="894.8" r="1.95" fill="#9a9ab2"/>
<circle cx="234.4" cy="893.8" r="1.95" fill="#9a9ab2"/>
<circle cx="235.1" cy="899.2" r="1.95" fill="#9a9ab2"/>
<circle cx="235.9" cy="904.2" r="1.95" fill="#9a9ab2"/>
<circle cx="236.6" cy="904.0" r="1.95" fill="#9a9ab2"/>
<circle cx="237.3" cy="913.9" r="1.95" fill="#9a9ab2"/>
<circle cx="238.1" cy="910.9" r="1.95" fill="#9a9ab2"/>
<circle cx="238.8" cy="900.4" r="1.95" fill="#9a9ab2"/>
<circle cx="239.5" cy="899.2" r="1.95" fill="#9a9ab2"/>
<circle cx="240.2" cy="896.0" r="1.95" fill="#9a9ab2"/>
<circle cx="241.0" cy="905.2" r="1.95" fill="#9a9ab2"/>
<circle cx="241.7" cy="897.9" r="1.95" fill="#9a9ab2"/>
<circle cx="242.4" cy="906.2" r="1.95" fill="#9a9ab2"/>
<circle cx="243.2" cy="906.8" r="1.95" fill="#9a9ab2"/>
<circle cx="243.9" cy="899.9" r="1.95" fill="#9a9ab2"/>
<circle cx="244.6" cy="901.9" r="1.95" fill="#9a9ab2"/>
<circle cx="245.4" cy="902.0" r="1.95" fill="#9a9ab2"/>
<circle cx="246.1" cy="915.0" r="1.95" fill="#9a9ab2"/>
<circle cx="246.8" cy="905.6" r="1.95" fill="#9a9ab2"/>
<circle cx="247.6" cy="913.3" r="1.95" fill="#9a9ab2"/>
<circle cx="248.3" cy="914.8" r="1.95" fill="#9a9ab2"/>
<circle cx="249.0" cy="915.0" r="1.95" fill="#9a9ab2"/>
<circle cx="249.8" cy="914.0" r="1.95" fill="#9a9ab2"/>
<circle cx="250.5" cy="903.7" r="1.95" fill="#9a9ab2"/>
<circle cx="251.2" cy="910.8" r="1.95" fill="#9a9ab2"/>
<circle cx="252.0" cy="911.8" r="1.95" fill="#9a9ab2"/>
<circle cx="252.7" cy="907.8" r="1.95" fill="#9a9ab2"/>
<circle cx="253.4" cy="909.9" r="1.95" fill="#9a9ab2"/>
<circle cx="254.2" cy="913.1" r="1.95" fill="#9a9ab2"/>
<circle cx="254.9" cy="911.7" r="1.95" fill="#9a9ab2"/>
<circle cx="255.6" cy="910.6" r="1.95" fill="#9a9ab2"/>
<circle cx="256.3" cy="910.0" r="1.95" fill="#9a9ab2"/>
<circle cx="257.1" cy="906.5" r="1.95" fill="#9a9ab2"/>
<circle cx="257.8" cy="920.5" r="1.95" fill="#9a9ab2"/>
<circle cx="258.5" cy="917.3" r="1.95" fill="#9a9ab2"/>
<circle cx="259.3" cy="905.8" r="1.95" fill="#9a9ab2"/>
<circle cx="260.0" cy="909.0" r="1.95" fill="#9a9ab2"/>
<circle cx="260.7" cy="917.2" r="1.95" fill="#9a9ab2"/>
<circle cx="261.5" cy="913.6" r="1.95" fill="#9a9ab2"/>
<circle cx="262.2" cy="916.1" r="1.95" fill="#9a9ab2"/>
<circle cx="262.9" cy="910.9" r="1.95" fill="#9a9ab2"/>
<circle cx="263.7" cy="905.5" r="1.95" fill="#9a9ab2"/>
<circle cx="264.4" cy="909.9" r="1.95" fill="#9a9ab2"/>
<circle cx="265.1" cy="916.0" r="1.95" fill="#9a9ab2"/>
<circle cx="265.9" cy="905.0" r="1.95" fill="#9a9ab2"/>
<circle cx="266.6" cy="900.3" r="1.95" fill="#9a9ab2"/>
<circle cx="267.3" cy="902.5" r="1.95" fill="#9a9ab2"/>
<circle cx="268.1" cy="909.7" r="1.95" fill="#9a9ab2"/>
<circle cx="268.8" cy="923.1" r="1.95" fill="#9a9ab2"/>
<circle cx="269.5" cy="912.3" r="1.95" fill="#9a9ab2"/>
<circle cx="270.3" cy="914.4" r="1.95" fill="#9a9ab2"/>
<circle cx="271.0" cy="907.7" r="1.95" fill="#9a9ab2"/>
<circle cx="271.7" cy="912.1" r="1.95" fill="#9a9ab2"/>
<circle cx="272.5" cy="908.3" r="1.95" fill="#9a9ab2"/>
<circle cx="273.2" cy="918.1" r="1.95" fill="#9a9ab2"/>
<circle cx="273.9" cy="910.7" r="1.95" fill="#9a9ab2"/>
<circle cx="274.6" cy="911.3" r="1.95" fill="#9a9ab2"/>
<circle cx="275.4" cy="914.8" r="1.95" fill="#9a9ab2"/>
<circle cx="276.1" cy="915.2" r="1.95" fill="#9a9ab2"/>
<circle cx="276.8" cy="921.2" r="1.95" fill="#9a9ab2"/>
<circle cx="277.6" cy="910.8" r="1.95" fill="#9a9ab2"/>
<circle cx="278.3" cy="920.4" r="1.95" fill="#9a9ab2"/>
<circle cx="279.0" cy="917.7" r="1.95" fill="#9a9ab2"/>
<circle cx="279.8" cy="915.4" r="1.95" fill="#9a9ab2"/>
<circle cx="280.5" cy="914.1" r="1.95" fill="#9a9ab2"/>
<circle cx="281.2" cy="904.1" r="1.95" fill="#9a9ab2"/>
<circle cx="282.0" cy="912.5" r="1.95" fill="#9a9ab2"/>
<circle cx="282.7" cy="910.5" r="1.95" fill="#9a9ab2"/>
<circle cx="283.4" cy="918.1" r="1.95" fill="#9a9ab2"/>
<circle cx="284.2" cy="914.3" r="1.95" fill="#9a9ab2"/>
<circle cx="284.9" cy="911.6" r="1.95" fill="#9a9ab2"/>
<circle cx="285.6" cy="913.4" r="1.95" fill="#9a9ab2"/>
<circle cx="286.4" cy="909.5" r="1.95" fill="#9a9ab2"/>
<circle cx="287.1" cy="922.7" r="1.95" fill="#9a9ab2"/>
<circle cx="287.8" cy="922.9" r="1.95" fill="#9a9ab2"/>
<circle cx="288.6" cy="912.5" r="1.95" fill="#9a9ab2"/>
<circle cx="289.3" cy="912.4" r="1.95" fill="#9a9ab2"/>
<circle cx="290.0" cy="921.3" r="1.95" fill="#9a9ab2"/>
<circle cx="290.8" cy="918.5" r="1.95" fill="#9a9ab2"/>
<circle cx="291.5" cy="929.3" r="1.95" fill="#9a9ab2"/>
<circle cx="292.2" cy="910.1" r="1.95" fill="#9a9ab2"/>
<circle cx="292.9" cy="921.0" r="1.95" fill="#9a9ab2"/>
<circle cx="293.7" cy="913.3" r="1.95" fill="#9a9ab2"/>
<circle cx="294.4" cy="920.7" r="1.95" fill="#9a9ab2"/>
<circle cx="295.1" cy="915.3" r="1.95" fill="#9a9ab2"/>
<circle cx="295.9" cy="914.0" r="1.95" fill="#9a9ab2"/>
<circle cx="296.6" cy="916.6" r="1.95" fill="#9a9ab2"/>
<circle cx="297.3" cy="923.2" r="1.95" fill="#9a9ab2"/>
<circle cx="298.1" cy="912.7" r="1.95" fill="#9a9ab2"/>
<circle cx="298.8" cy="904.7" r="1.95" fill="#9a9ab2"/>
<circle cx="299.5" cy="925.5" r="1.95" fill="#9a9ab2"/>
<circle cx="300.3" cy="924.0" r="1.95" fill="#9a9ab2"/>
<circle cx="301.0" cy="916.8" r="1.95" fill="#9a9ab2"/>
<circle cx="301.7" cy="914.6" r="1.95" fill="#9a9ab2"/>
<circle cx="302.5" cy="913.0" r="1.95" fill="#9a9ab2"/>
<circle cx="303.2" cy="912.3" r="1.95" fill="#9a9ab2"/>
<circle cx="303.9" cy="916.0" r="1.95" fill="#9a9ab2"/>
<circle cx="304.7" cy="916.0" r="1.95" fill="#9a9ab2"/>
<circle cx="305.4" cy="917.1" r="1.95" fill="#9a9ab2"/>
<circle cx="306.1" cy="910.9" r="1.95" fill="#9a9ab2"/>
<circle cx="306.9" cy="914.1" r="1.95" fill="#9a9ab2"/>
<circle cx="307.6" cy="918.6" r="1.95" fill="#9a9ab2"/>
<circle cx="308.3" cy="907.3" r="1.95" fill="#9a9ab2"/>
<circle cx="309.0" cy="911.1" r="1.95" fill="#9a9ab2"/>
<circle cx="309.8" cy="918.4" r="1.95" fill="#9a9ab2"/>
<circle cx="310.5" cy="917.1" r="1.95" fill="#9a9ab2"/>
<circle cx="311.2" cy="918.8" r="1.95" fill="#9a9ab2"/>
<circle cx="312.0" cy="917.9" r="1.95" fill="#9a9ab2"/>
<circle cx="312.7" cy="921.0" r="1.95" fill="#9a9ab2"/>
<circle cx="313.4" cy="918.0" r="1.95" fill="#9a9ab2"/>
<circle cx="314.2" cy="920.7" r="1.95" fill="#9a9ab2"/>
<circle cx="314.9" cy="920.1" r="1.95" fill="#9a9ab2"/>
<circle cx="315.6" cy="908.6" r="1.95" fill="#9a9ab2"/>
<circle cx="316.4" cy="916.9" r="1.95" fill="#9a9ab2"/>
<circle cx="317.1" cy="915.5" r="1.95" fill="#9a9ab2"/>
<circle cx="317.8" cy="916.1" r="1.95" fill="#9a9ab2"/>
<circle cx="318.6" cy="925.8" r="1.95" fill="#9a9ab2"/>
<circle cx="319.3" cy="913.5" r="1.95" fill="#9a9ab2"/>
<circle cx="320.0" cy="915.2" r="1.95" fill="#9a9ab2"/>
<circle cx="320.8" cy="924.7" r="1.95" fill="#9a9ab2"/>
<circle cx="321.5" cy="919.5" r="1.95" fill="#9a9ab2"/>
<circle cx="322.2" cy="924.0" r="1.95" fill="#9a9ab2"/>
<circle cx="323.0" cy="916.8" r="1.95" fill="#9a9ab2"/>
<circle cx="323.7" cy="911.9" r="1.95" fill="#9a9ab2"/>
<circle cx="324.4" cy="927.2" r="1.95" fill="#9a9ab2"/>
<circle cx="325.2" cy="913.1" r="1.95" fill="#9a9ab2"/>
<circle cx="325.9" cy="907.8" r="1.95" fill="#9a9ab2"/>
<circle cx="326.6" cy="923.3" r="1.95" fill="#9a9ab2"/>
<circle cx="327.3" cy="911.0" r="1.95" fill="#9a9ab2"/>
<circle cx="328.1" cy="930.0" r="1.95" fill="#9a9ab2"/>
<circle cx="328.8" cy="915.4" r="1.95" fill="#9a9ab2"/>
<circle cx="329.5" cy="917.2" r="1.95" fill="#9a9ab2"/>
<circle cx="330.3" cy="922.4" r="1.95" fill="#9a9ab2"/>
<circle cx="331.0" cy="912.8" r="1.95" fill="#9a9ab2"/>
<circle cx="331.7" cy="917.9" r="1.95" fill="#9a9ab2"/>
<circle cx="332.5" cy="913.8" r="1.95" fill="#9a9ab2"/>
<circle cx="333.2" cy="916.4" r="1.95" fill="#9a9ab2"/>
<circle cx="333.9" cy="914.3" r="1.95" fill="#9a9ab2"/>
<circle cx="334.7" cy="924.7" r="1.95" fill="#9a9ab2"/>
<circle cx="335.4" cy="917.5" r="1.95" fill="#9a9ab2"/>
<circle cx="336.1" cy="918.8" r="1.95" fill="#9a9ab2"/>
<circle cx="336.9" cy="926.6" r="1.95" fill="#9a9ab2"/>
<circle cx="337.6" cy="914.1" r="1.95" fill="#9a9ab2"/>
<circle cx="338.3" cy="915.3" r="1.95" fill="#9a9ab2"/>
<circle cx="339.1" cy="914.8" r="1.95" fill="#9a9ab2"/>
<circle cx="339.8" cy="925.2" r="1.95" fill="#9a9ab2"/>
<circle cx="340.5" cy="919.1" r="1.95" fill="#9a9ab2"/>
<circle cx="341.3" cy="912.9" r="1.95" fill="#9a9ab2"/>
<circle cx="342.0" cy="919.7" r="1.95" fill="#9a9ab2"/>
<circle cx="342.7" cy="919.7" r="1.95" fill="#9a9ab2"/>
<circle cx="343.4" cy="919.5" r="1.95" fill="#9a9ab2"/>
<circle cx="344.2" cy="921.7" r="1.95" fill="#9a9ab2"/>
<circle cx="344.9" cy="915.2" r="1.95" fill="#9a9ab2"/>
<circle cx="345.6" cy="917.6" r="1.95" fill="#9a9ab2"/>
<circle cx="346.4" cy="915.3" r="1.95" fill="#9a9ab2"/>
<circle cx="347.1" cy="914.3" r="1.95" fill="#9a9ab2"/>
<circle cx="347.8" cy="928.8" r="1.95" fill="#9a9ab2"/>
<circle cx="348.6" cy="916.8" r="1.95" fill="#9a9ab2"/>
<circle cx="349.3" cy="923.8" r="1.95" fill="#9a9ab2"/>
<circle cx="350.0" cy="919.5" r="1.95" fill="#9a9ab2"/>
<circle cx="350.8" cy="922.2" r="1.95" fill="#9a9ab2"/>
<circle cx="351.5" cy="922.9" r="1.95" fill="#9a9ab2"/>
<circle cx="352.2" cy="925.4" r="1.95" fill="#9a9ab2"/>
<circle cx="353.0" cy="921.3" r="1.95" fill="#9a9ab2"/>
<circle cx="353.7" cy="919.8" r="1.95" fill="#9a9ab2"/>
<circle cx="354.4" cy="925.7" r="1.95" fill="#9a9ab2"/>
<circle cx="355.2" cy="911.6" r="1.95" fill="#9a9ab2"/>
<circle cx="355.9" cy="913.8" r="1.95" fill="#9a9ab2"/>
<circle cx="356.6" cy="921.2" r="1.95" fill="#9a9ab2"/>
<circle cx="357.4" cy="918.7" r="1.95" fill="#9a9ab2"/>
<circle cx="358.1" cy="919.6" r="1.95" fill="#9a9ab2"/>
<circle cx="358.8" cy="917.6" r="1.95" fill="#9a9ab2"/>
<circle cx="359.6" cy="926.6" r="1.95" fill="#9a9ab2"/>
<circle cx="360.3" cy="918.0" r="1.95" fill="#9a9ab2"/>
<circle cx="361.0" cy="904.8" r="1.95" fill="#9a9ab2"/>
<circle cx="361.7" cy="913.7" r="1.95" fill="#9a9ab2"/>
<circle cx="362.5" cy="924.9" r="1.95" fill="#9a9ab2"/>
<circle cx="363.2" cy="923.3" r="1.95" fill="#9a9ab2"/>
<circle cx="363.9" cy="915.3" r="1.95" fill="#9a9ab2"/>
<circle cx="364.7" cy="925.0" r="1.95" fill="#9a9ab2"/>
<circle cx="365.4" cy="922.7" r="1.95" fill="#9a9ab2"/>
<circle cx="366.1" cy="919.7" r="1.95" fill="#9a9ab2"/>
<circle cx="366.9" cy="918.0" r="1.95" fill="#9a9ab2"/>
<circle cx="367.6" cy="921.3" r="1.95" fill="#9a9ab2"/>
<circle cx="368.3" cy="911.2" r="1.95" fill="#9a9ab2"/>
<circle cx="369.1" cy="928.9" r="1.95" fill="#9a9ab2"/>
<circle cx="369.8" cy="908.1" r="1.95" fill="#9a9ab2"/>
<circle cx="370.5" cy="918.5" r="1.95" fill="#9a9ab2"/>
<circle cx="371.3" cy="922.7" r="1.95" fill="#9a9ab2"/>
<circle cx="372.0" cy="920.2" r="1.95" fill="#9a9ab2"/>
<circle cx="372.7" cy="910.6" r="1.95" fill="#9a9ab2"/>
<circle cx="373.5" cy="924.5" r="1.95" fill="#9a9ab2"/>
<circle cx="374.2" cy="915.8" r="1.95" fill="#9a9ab2"/>
<circle cx="374.9" cy="914.1" r="1.95" fill="#9a9ab2"/>
<circle cx="375.7" cy="908.4" r="1.95" fill="#9a9ab2"/>
<circle cx="376.4" cy="921.8" r="1.95" fill="#9a9ab2"/>
<circle cx="377.1" cy="926.4" r="1.95" fill="#9a9ab2"/>
<circle cx="377.9" cy="912.0" r="1.95" fill="#9a9ab2"/>
<circle cx="378.6" cy="919.3" r="1.95" fill="#9a9ab2"/>
<circle cx="379.3" cy="922.8" r="1.95" fill="#9a9ab2"/>
<circle cx="380.0" cy="918.9" r="1.95" fill="#9a9ab2"/>
<circle cx="380.8" cy="918.2" r="1.95" fill="#9a9ab2"/>
<circle cx="381.5" cy="920.6" r="1.95" fill="#9a9ab2"/>
<circle cx="382.2" cy="921.3" r="1.95" fill="#9a9ab2"/>
<circle cx="383.0" cy="919.8" r="1.95" fill="#9a9ab2"/>
<circle cx="383.7" cy="925.2" r="1.95" fill="#9a9ab2"/>
<circle cx="384.4" cy="913.7" r="1.95" fill="#9a9ab2"/>
<circle cx="385.2" cy="916.4" r="1.95" fill="#9a9ab2"/>
<circle cx="385.9" cy="912.0" r="1.95" fill="#9a9ab2"/>
<circle cx="386.6" cy="927.8" r="1.95" fill="#9a9ab2"/>
<circle cx="387.4" cy="924.4" r="1.95" fill="#9a9ab2"/>
<circle cx="388.1" cy="916.5" r="1.95" fill="#9a9ab2"/>
<circle cx="388.8" cy="924.2" r="1.95" fill="#9a9ab2"/>
<circle cx="389.6" cy="933.2" r="1.95" fill="#9a9ab2"/>
<circle cx="390.3" cy="925.5" r="1.95" fill="#9a9ab2"/>
<circle cx="391.0" cy="913.1" r="1.95" fill="#9a9ab2"/>
<circle cx="391.8" cy="926.0" r="1.95" fill="#9a9ab2"/>
<circle cx="392.5" cy="917.8" r="1.95" fill="#9a9ab2"/>
<circle cx="393.2" cy="931.6" r="1.95" fill="#9a9ab2"/>
<circle cx="394.0" cy="915.8" r="1.95" fill="#9a9ab2"/>
<circle cx="394.7" cy="917.8" r="1.95" fill="#9a9ab2"/>
<circle cx="395.4" cy="915.6" r="1.95" fill="#9a9ab2"/>
<circle cx="396.1" cy="917.3" r="1.95" fill="#9a9ab2"/>
<circle cx="396.9" cy="919.6" r="1.95" fill="#9a9ab2"/>
<circle cx="397.6" cy="920.6" r="1.95" fill="#9a9ab2"/>
<circle cx="398.3" cy="915.7" r="1.95" fill="#9a9ab2"/>
<circle cx="399.1" cy="920.8" r="1.95" fill="#9a9ab2"/>
<circle cx="399.8" cy="916.3" r="1.95" fill="#9a9ab2"/>
<circle cx="400.5" cy="917.3" r="1.95" fill="#9a9ab2"/>
<circle cx="401.3" cy="922.0" r="1.95" fill="#9a9ab2"/>
<circle cx="402.0" cy="918.6" r="1.95" fill="#9a9ab2"/>
<circle cx="402.7" cy="906.9" r="1.95" fill="#9a9ab2"/>
<circle cx="403.5" cy="916.0" r="1.95" fill="#9a9ab2"/>
<circle cx="404.2" cy="918.2" r="1.95" fill="#9a9ab2"/>
<circle cx="404.9" cy="918.4" r="1.95" fill="#9a9ab2"/>
<circle cx="405.7" cy="905.0" r="1.95" fill="#9a9ab2"/>
<circle cx="406.4" cy="914.3" r="1.95" fill="#9a9ab2"/>
<circle cx="407.1" cy="915.3" r="1.95" fill="#9a9ab2"/>
<circle cx="407.9" cy="925.9" r="1.95" fill="#9a9ab2"/>
<circle cx="408.6" cy="930.5" r="1.95" fill="#9a9ab2"/>
<circle cx="409.3" cy="910.7" r="1.95" fill="#9a9ab2"/>
<circle cx="410.1" cy="918.6" r="1.95" fill="#9a9ab2"/>
<circle cx="410.8" cy="906.1" r="1.95" fill="#9a9ab2"/>
<circle cx="411.5" cy="919.7" r="1.95" fill="#9a9ab2"/>
<circle cx="412.3" cy="912.1" r="1.95" fill="#9a9ab2"/>
<circle cx="413.0" cy="914.7" r="1.95" fill="#9a9ab2"/>
<circle cx="413.7" cy="924.4" r="1.95" fill="#9a9ab2"/>
<circle cx="414.4" cy="922.6" r="1.95" fill="#9a9ab2"/>
<circle cx="415.2" cy="910.4" r="1.95" fill="#9a9ab2"/>
<circle cx="415.9" cy="916.2" r="1.95" fill="#9a9ab2"/>
<circle cx="416.6" cy="921.1" r="1.95" fill="#9a9ab2"/>
<circle cx="417.4" cy="914.7" r="1.95" fill="#9a9ab2"/>
<circle cx="418.1" cy="909.2" r="1.95" fill="#9a9ab2"/>
<circle cx="418.8" cy="922.1" r="1.95" fill="#9a9ab2"/>
<circle cx="419.6" cy="920.3" r="1.95" fill="#9a9ab2"/>
<circle cx="420.3" cy="915.4" r="1.95" fill="#9a9ab2"/>
<circle cx="421.0" cy="916.3" r="1.95" fill="#9a9ab2"/>
<circle cx="421.8" cy="923.6" r="1.95" fill="#9a9ab2"/>
<circle cx="422.5" cy="926.2" r="1.95" fill="#9a9ab2"/>
<circle cx="423.2" cy="918.3" r="1.95" fill="#9a9ab2"/>
<circle cx="424.0" cy="919.2" r="1.95" fill="#9a9ab2"/>
<circle cx="424.7" cy="914.0" r="1.95" fill="#9a9ab2"/>
<circle cx="425.4" cy="921.5" r="1.95" fill="#9a9ab2"/>
<circle cx="426.2" cy="928.5" r="1.95" fill="#9a9ab2"/>
<circle cx="426.9" cy="925.2" r="1.95" fill="#9a9ab2"/>
<circle cx="427.6" cy="917.0" r="1.95" fill="#9a9ab2"/>
<circle cx="428.4" cy="926.2" r="1.95" fill="#9a9ab2"/>
<circle cx="429.1" cy="921.6" r="1.95" fill="#9a9ab2"/>
<circle cx="429.8" cy="926.3" r="1.95" fill="#9a9ab2"/>
<circle cx="430.6" cy="912.4" r="1.95" fill="#9a9ab2"/>
<circle cx="431.3" cy="920.4" r="1.95" fill="#9a9ab2"/>
<circle cx="432.0" cy="931.1" r="1.95" fill="#9a9ab2"/>
<circle cx="432.7" cy="927.2" r="1.95" fill="#9a9ab2"/>
<circle cx="433.5" cy="922.7" r="1.95" fill="#9a9ab2"/>
<circle cx="434.2" cy="927.9" r="1.95" fill="#9a9ab2"/>
<circle cx="434.9" cy="931.5" r="1.95" fill="#9a9ab2"/>
<circle cx="435.7" cy="912.8" r="1.95" fill="#9a9ab2"/>
<circle cx="436.4" cy="924.4" r="1.95" fill="#9a9ab2"/>
<circle cx="437.1" cy="924.6" r="1.95" fill="#9a9ab2"/>
<circle cx="437.9" cy="915.3" r="1.95" fill="#9a9ab2"/>
<circle cx="438.6" cy="925.2" r="1.95" fill="#9a9ab2"/>
<circle cx="439.3" cy="918.8" r="1.95" fill="#9a9ab2"/>
<circle cx="440.1" cy="916.2" r="1.95" fill="#9a9ab2"/>
<circle cx="440.8" cy="914.7" r="1.95" fill="#9a9ab2"/>
<circle cx="441.5" cy="920.0" r="1.95" fill="#9a9ab2"/>
<circle cx="442.3" cy="919.1" r="1.95" fill="#9a9ab2"/>
<circle cx="443.0" cy="922.4" r="1.95" fill="#9a9ab2"/>
<circle cx="443.7" cy="924.8" r="1.95" fill="#9a9ab2"/>
<circle cx="444.5" cy="924.6" r="1.95" fill="#9a9ab2"/>
<circle cx="445.2" cy="926.4" r="1.95" fill="#9a9ab2"/>
<circle cx="445.9" cy="922.8" r="1.95" fill="#9a9ab2"/>
<circle cx="446.7" cy="928.2" r="1.95" fill="#9a9ab2"/>
<circle cx="447.4" cy="922.6" r="1.95" fill="#9a9ab2"/>
<circle cx="448.1" cy="931.3" r="1.95" fill="#9a9ab2"/>
<circle cx="448.8" cy="922.1" r="1.95" fill="#9a9ab2"/>
<circle cx="449.6" cy="915.8" r="1.95" fill="#9a9ab2"/>
<circle cx="450.3" cy="931.7" r="1.95" fill="#9a9ab2"/>
<circle cx="451.0" cy="930.0" r="1.95" fill="#9a9ab2"/>
<circle cx="451.8" cy="920.6" r="1.95" fill="#9a9ab2"/>
<circle cx="452.5" cy="916.0" r="1.95" fill="#9a9ab2"/>
<circle cx="453.2" cy="930.4" r="1.95" fill="#9a9ab2"/>
<circle cx="454.0" cy="924.8" r="1.95" fill="#9a9ab2"/>
<circle cx="454.7" cy="923.4" r="1.95" fill="#9a9ab2"/>
<circle cx="455.4" cy="925.7" r="1.95" fill="#9a9ab2"/>
<circle cx="456.2" cy="924.0" r="1.95" fill="#9a9ab2"/>
<circle cx="456.9" cy="919.7" r="1.95" fill="#9a9ab2"/>
<circle cx="457.6" cy="924.5" r="1.95" fill="#9a9ab2"/>
<circle cx="458.4" cy="911.4" r="1.95" fill="#9a9ab2"/>
<circle cx="459.1" cy="917.1" r="1.95" fill="#9a9ab2"/>
<circle cx="459.8" cy="911.3" r="1.95" fill="#9a9ab2"/>
<circle cx="460.6" cy="922.3" r="1.95" fill="#9a9ab2"/>
<circle cx="461.3" cy="924.9" r="1.95" fill="#9a9ab2"/>
<circle cx="462.0" cy="918.9" r="1.95" fill="#9a9ab2"/>
<circle cx="462.8" cy="923.8" r="1.95" fill="#9a9ab2"/>
<circle cx="463.5" cy="916.4" r="1.95" fill="#9a9ab2"/>
<circle cx="464.2" cy="923.4" r="1.95" fill="#9a9ab2"/>
<circle cx="465.0" cy="915.0" r="1.95" fill="#9a9ab2"/>
<circle cx="465.7" cy="930.2" r="1.95" fill="#9a9ab2"/>
<circle cx="466.4" cy="925.9" r="1.95" fill="#9a9ab2"/>
<circle cx="467.1" cy="923.7" r="1.95" fill="#9a9ab2"/>
<circle cx="467.9" cy="911.1" r="1.95" fill="#9a9ab2"/>
<circle cx="468.6" cy="914.5" r="1.95" fill="#9a9ab2"/>
<circle cx="469.3" cy="920.3" r="1.95" fill="#9a9ab2"/>
<circle cx="470.1" cy="930.2" r="1.95" fill="#9a9ab2"/>
<circle cx="470.8" cy="925.0" r="1.95" fill="#9a9ab2"/>
<circle cx="471.5" cy="929.4" r="1.95" fill="#9a9ab2"/>
<circle cx="472.3" cy="920.1" r="1.95" fill="#9a9ab2"/>
<circle cx="473.0" cy="924.6" r="1.95" fill="#9a9ab2"/>
<circle cx="473.7" cy="922.4" r="1.95" fill="#9a9ab2"/>
<circle cx="474.5" cy="928.2" r="1.95" fill="#9a9ab2"/>
<circle cx="475.2" cy="928.9" r="1.95" fill="#9a9ab2"/>
<circle cx="475.9" cy="923.2" r="1.95" fill="#9a9ab2"/>
<circle cx="476.7" cy="923.6" r="1.95" fill="#9a9ab2"/>
<circle cx="477.4" cy="924.2" r="1.95" fill="#9a9ab2"/>
<circle cx="478.1" cy="928.2" r="1.95" fill="#9a9ab2"/>
<circle cx="478.9" cy="925.3" r="1.95" fill="#9a9ab2"/>
<circle cx="479.6" cy="926.1" r="1.95" fill="#9a9ab2"/>
<circle cx="480.3" cy="922.1" r="1.95" fill="#9a9ab2"/>
<circle cx="481.1" cy="911.2" r="1.95" fill="#9a9ab2"/>
<circle cx="481.8" cy="924.0" r="1.95" fill="#9a9ab2"/>
<circle cx="482.5" cy="935.4" r="1.95" fill="#9a9ab2"/>
<circle cx="483.2" cy="925.5" r="1.95" fill="#9a9ab2"/>
<circle cx="484.0" cy="924.7" r="1.95" fill="#9a9ab2"/>
<circle cx="484.7" cy="920.0" r="1.95" fill="#9a9ab2"/>
<circle cx="485.4" cy="926.0" r="1.95" fill="#9a9ab2"/>
<circle cx="486.2" cy="923.1" r="1.95" fill="#9a9ab2"/>
<circle cx="486.9" cy="918.0" r="1.95" fill="#9a9ab2"/>
<circle cx="487.6" cy="930.7" r="1.95" fill="#9a9ab2"/>
<circle cx="488.4" cy="914.3" r="1.95" fill="#9a9ab2"/>
<circle cx="489.1" cy="919.4" r="1.95" fill="#9a9ab2"/>
<circle cx="489.8" cy="929.1" r="1.95" fill="#9a9ab2"/>
<circle cx="490.6" cy="935.1" r="1.95" fill="#9a9ab2"/>
<circle cx="491.3" cy="921.8" r="1.95" fill="#9a9ab2"/>
<circle cx="492.0" cy="926.8" r="1.95" fill="#9a9ab2"/>
<circle cx="492.8" cy="920.0" r="1.95" fill="#9a9ab2"/>
<circle cx="493.5" cy="928.0" r="1.95" fill="#9a9ab2"/>
<circle cx="494.2" cy="918.7" r="1.95" fill="#9a9ab2"/>
<circle cx="495.0" cy="916.2" r="1.95" fill="#9a9ab2"/>
<circle cx="495.7" cy="912.9" r="1.95" fill="#9a9ab2"/>
<circle cx="496.4" cy="922.2" r="1.95" fill="#9a9ab2"/>
<circle cx="497.2" cy="919.1" r="1.95" fill="#9a9ab2"/>
<circle cx="497.9" cy="914.1" r="1.95" fill="#9a9ab2"/>
<circle cx="498.6" cy="927.4" r="1.95" fill="#9a9ab2"/>
<circle cx="499.4" cy="926.8" r="1.95" fill="#9a9ab2"/>
<circle cx="500.1" cy="913.9" r="1.95" fill="#9a9ab2"/>
<circle cx="500.8" cy="915.4" r="1.95" fill="#9a9ab2"/>
<circle cx="501.5" cy="932.6" r="1.95" fill="#9a9ab2"/>
<circle cx="502.3" cy="916.7" r="1.95" fill="#9a9ab2"/>
<circle cx="503.0" cy="918.8" r="1.95" fill="#9a9ab2"/>
<circle cx="503.7" cy="929.1" r="1.95" fill="#9a9ab2"/>
<circle cx="504.5" cy="932.8" r="1.95" fill="#9a9ab2"/>
<circle cx="505.2" cy="918.4" r="1.95" fill="#9a9ab2"/>
<circle cx="505.9" cy="920.0" r="1.95" fill="#9a9ab2"/>
<circle cx="506.7" cy="920.1" r="1.95" fill="#9a9ab2"/>
<circle cx="507.4" cy="926.2" r="1.95" fill="#9a9ab2"/>
<circle cx="508.1" cy="921.4" r="1.95" fill="#9a9ab2"/>
<circle cx="508.9" cy="920.7" r="1.95" fill="#9a9ab2"/>
<circle cx="509.6" cy="915.6" r="1.95" fill="#9a9ab2"/>
<circle cx="510.3" cy="910.4" r="1.95" fill="#9a9ab2"/>
<circle cx="511.1" cy="918.1" r="1.95" fill="#9a9ab2"/>
<circle cx="511.8" cy="922.9" r="1.95" fill="#9a9ab2"/>
<circle cx="512.5" cy="926.1" r="1.95" fill="#9a9ab2"/>
<circle cx="513.3" cy="927.3" r="1.95" fill="#9a9ab2"/>
<circle cx="514.0" cy="919.3" r="1.95" fill="#9a9ab2"/>
<circle cx="514.7" cy="927.0" r="1.95" fill="#9a9ab2"/>
<circle cx="515.5" cy="931.1" r="1.95" fill="#9a9ab2"/>
<circle cx="516.2" cy="924.4" r="1.95" fill="#9a9ab2"/>
<circle cx="516.9" cy="927.0" r="1.95" fill="#9a9ab2"/>
<circle cx="517.7" cy="925.3" r="1.95" fill="#9a9ab2"/>
<circle cx="518.4" cy="928.0" r="1.95" fill="#9a9ab2"/>
<circle cx="519.1" cy="922.4" r="1.95" fill="#9a9ab2"/>
<circle cx="519.8" cy="919.4" r="1.95" fill="#9a9ab2"/>
<circle cx="520.6" cy="915.6" r="1.95" fill="#9a9ab2"/>
<circle cx="521.3" cy="910.7" r="1.95" fill="#9a9ab2"/>
<circle cx="522.0" cy="914.5" r="1.95" fill="#9a9ab2"/>
<circle cx="522.8" cy="915.9" r="1.95" fill="#9a9ab2"/>
<circle cx="523.5" cy="923.8" r="1.95" fill="#9a9ab2"/>
<circle cx="524.2" cy="912.8" r="1.95" fill="#9a9ab2"/>
<circle cx="525.0" cy="918.0" r="1.95" fill="#9a9ab2"/>
<circle cx="525.7" cy="918.2" r="1.95" fill="#9a9ab2"/>
<circle cx="526.4" cy="928.5" r="1.95" fill="#9a9ab2"/>
<circle cx="527.2" cy="935.8" r="1.95" fill="#9a9ab2"/>
<circle cx="527.9" cy="914.3" r="1.95" fill="#9a9ab2"/>
<circle cx="528.6" cy="923.1" r="1.95" fill="#9a9ab2"/>
<circle cx="529.4" cy="918.9" r="1.95" fill="#9a9ab2"/>
<circle cx="530.1" cy="917.0" r="1.95" fill="#9a9ab2"/>
<circle cx="530.8" cy="923.2" r="1.95" fill="#9a9ab2"/>
<circle cx="531.6" cy="920.9" r="1.95" fill="#9a9ab2"/>
<circle cx="532.3" cy="922.7" r="1.95" fill="#9a9ab2"/>
<circle cx="533.0" cy="925.2" r="1.95" fill="#9a9ab2"/>
<circle cx="533.8" cy="925.9" r="1.95" fill="#9a9ab2"/>
<circle cx="534.5" cy="929.5" r="1.95" fill="#9a9ab2"/>
<circle cx="535.2" cy="928.4" r="1.95" fill="#9a9ab2"/>
<circle cx="535.9" cy="918.3" r="1.95" fill="#9a9ab2"/>
<circle cx="536.7" cy="916.1" r="1.95" fill="#9a9ab2"/>
<circle cx="537.4" cy="920.5" r="1.95" fill="#9a9ab2"/>
<circle cx="538.1" cy="921.9" r="1.95" fill="#9a9ab2"/>
<circle cx="538.9" cy="915.9" r="1.95" fill="#9a9ab2"/>
<circle cx="539.6" cy="927.1" r="1.95" fill="#9a9ab2"/>
<circle cx="540.3" cy="923.4" r="1.95" fill="#9a9ab2"/>
<circle cx="541.1" cy="923.8" r="1.95" fill="#9a9ab2"/>
<circle cx="541.8" cy="917.5" r="1.95" fill="#9a9ab2"/>
<circle cx="542.5" cy="926.7" r="1.95" fill="#9a9ab2"/>
<circle cx="543.3" cy="920.2" r="1.95" fill="#9a9ab2"/>
<circle cx="544.0" cy="917.5" r="1.95" fill="#9a9ab2"/>
<circle cx="230.0" cy="868.1" r="1.95" fill="#e27a1e"/>
<circle cx="230.7" cy="883.7" r="1.95" fill="#e27a1e"/>
<circle cx="231.5" cy="867.7" r="1.95" fill="#e27a1e"/>
<circle cx="232.2" cy="889.3" r="1.95" fill="#e27a1e"/>
<circle cx="232.9" cy="898.3" r="1.95" fill="#e27a1e"/>
<circle cx="233.7" cy="891.0" r="1.95" fill="#e27a1e"/>
<circle cx="234.4" cy="893.9" r="1.95" fill="#e27a1e"/>
<circle cx="235.1" cy="903.6" r="1.95" fill="#e27a1e"/>
<circle cx="235.9" cy="903.9" r="1.95" fill="#e27a1e"/>
<circle cx="236.6" cy="896.6" r="1.95" fill="#e27a1e"/>
<circle cx="237.3" cy="895.6" r="1.95" fill="#e27a1e"/>
<circle cx="238.1" cy="895.5" r="1.95" fill="#e27a1e"/>
<circle cx="238.8" cy="904.4" r="1.95" fill="#e27a1e"/>
<circle cx="239.5" cy="900.1" r="1.95" fill="#e27a1e"/>
<circle cx="240.2" cy="902.5" r="1.95" fill="#e27a1e"/>
<circle cx="241.0" cy="889.1" r="1.95" fill="#e27a1e"/>
<circle cx="241.7" cy="895.5" r="1.95" fill="#e27a1e"/>
<circle cx="242.4" cy="905.8" r="1.95" fill="#e27a1e"/>
<circle cx="243.2" cy="912.0" r="1.95" fill="#e27a1e"/>
<circle cx="243.9" cy="897.6" r="1.95" fill="#e27a1e"/>
<circle cx="244.6" cy="901.2" r="1.95" fill="#e27a1e"/>
<circle cx="245.4" cy="896.7" r="1.95" fill="#e27a1e"/>
<circle cx="246.1" cy="896.0" r="1.95" fill="#e27a1e"/>
<circle cx="246.8" cy="904.3" r="1.95" fill="#e27a1e"/>
<circle cx="247.6" cy="896.1" r="1.95" fill="#e27a1e"/>
<circle cx="248.3" cy="904.9" r="1.95" fill="#e27a1e"/>
<circle cx="249.0" cy="901.0" r="1.95" fill="#e27a1e"/>
<circle cx="249.8" cy="885.4" r="1.95" fill="#e27a1e"/>
<circle cx="250.5" cy="890.5" r="1.95" fill="#e27a1e"/>
<circle cx="251.2" cy="902.4" r="1.95" fill="#e27a1e"/>
<circle cx="252.0" cy="905.9" r="1.95" fill="#e27a1e"/>
<circle cx="252.7" cy="900.7" r="1.95" fill="#e27a1e"/>
<circle cx="253.4" cy="894.6" r="1.95" fill="#e27a1e"/>
<circle cx="254.2" cy="897.3" r="1.95" fill="#e27a1e"/>
<circle cx="254.9" cy="886.3" r="1.95" fill="#e27a1e"/>
<circle cx="255.6" cy="906.3" r="1.95" fill="#e27a1e"/>
<circle cx="256.3" cy="897.5" r="1.95" fill="#e27a1e"/>
<circle cx="257.1" cy="898.3" r="1.95" fill="#e27a1e"/>
<circle cx="257.8" cy="897.1" r="1.95" fill="#e27a1e"/>
<circle cx="258.5" cy="911.4" r="1.95" fill="#e27a1e"/>
<circle cx="259.3" cy="896.6" r="1.95" fill="#e27a1e"/>
<circle cx="260.0" cy="904.8" r="1.95" fill="#e27a1e"/>
<circle cx="260.7" cy="910.0" r="1.95" fill="#e27a1e"/>
<circle cx="261.5" cy="891.6" r="1.95" fill="#e27a1e"/>
<circle cx="262.2" cy="898.7" r="1.95" fill="#e27a1e"/>
<circle cx="262.9" cy="901.4" r="1.95" fill="#e27a1e"/>
<circle cx="263.7" cy="902.4" r="1.95" fill="#e27a1e"/>
<circle cx="264.4" cy="892.4" r="1.95" fill="#e27a1e"/>
<circle cx="265.1" cy="902.6" r="1.95" fill="#e27a1e"/>
<circle cx="265.9" cy="898.8" r="1.95" fill="#e27a1e"/>
<circle cx="266.6" cy="898.5" r="1.95" fill="#e27a1e"/>
<circle cx="267.3" cy="898.5" r="1.95" fill="#e27a1e"/>
<circle cx="268.1" cy="897.8" r="1.95" fill="#e27a1e"/>
<circle cx="268.8" cy="895.1" r="1.95" fill="#e27a1e"/>
<circle cx="269.5" cy="890.6" r="1.95" fill="#e27a1e"/>
<circle cx="270.3" cy="899.2" r="1.95" fill="#e27a1e"/>
<circle cx="271.0" cy="893.2" r="1.95" fill="#e27a1e"/>
<circle cx="271.7" cy="903.1" r="1.95" fill="#e27a1e"/>
<circle cx="272.5" cy="901.0" r="1.95" fill="#e27a1e"/>
<circle cx="273.2" cy="895.0" r="1.95" fill="#e27a1e"/>
<circle cx="273.9" cy="900.4" r="1.95" fill="#e27a1e"/>
<circle cx="274.6" cy="904.6" r="1.95" fill="#e27a1e"/>
<circle cx="275.4" cy="897.7" r="1.95" fill="#e27a1e"/>
<circle cx="276.1" cy="899.8" r="1.95" fill="#e27a1e"/>
<circle cx="276.8" cy="906.0" r="1.95" fill="#e27a1e"/>
<circle cx="277.6" cy="897.7" r="1.95" fill="#e27a1e"/>
<circle cx="278.3" cy="895.6" r="1.95" fill="#e27a1e"/>
<circle cx="279.0" cy="898.0" r="1.95" fill="#e27a1e"/>
<circle cx="279.8" cy="909.1" r="1.95" fill="#e27a1e"/>
<circle cx="280.5" cy="905.1" r="1.95" fill="#e27a1e"/>
<circle cx="281.2" cy="912.5" r="1.95" fill="#e27a1e"/>
<circle cx="282.0" cy="907.5" r="1.95" fill="#e27a1e"/>
<circle cx="282.7" cy="911.1" r="1.95" fill="#e27a1e"/>
<circle cx="283.4" cy="911.5" r="1.95" fill="#e27a1e"/>
<circle cx="284.2" cy="903.5" r="1.95" fill="#e27a1e"/>
<circle cx="284.9" cy="902.6" r="1.95" fill="#e27a1e"/>
<circle cx="285.6" cy="902.1" r="1.95" fill="#e27a1e"/>
<circle cx="286.4" cy="910.7" r="1.95" fill="#e27a1e"/>
<circle cx="287.1" cy="908.4" r="1.95" fill="#e27a1e"/>
<circle cx="287.8" cy="904.1" r="1.95" fill="#e27a1e"/>
<circle cx="288.6" cy="904.3" r="1.95" fill="#e27a1e"/>
<circle cx="289.3" cy="907.4" r="1.95" fill="#e27a1e"/>
<circle cx="290.0" cy="910.1" r="1.95" fill="#e27a1e"/>
<circle cx="290.8" cy="900.3" r="1.95" fill="#e27a1e"/>
<circle cx="291.5" cy="903.7" r="1.95" fill="#e27a1e"/>
<circle cx="292.2" cy="896.0" r="1.95" fill="#e27a1e"/>
<circle cx="292.9" cy="904.4" r="1.95" fill="#e27a1e"/>
<circle cx="293.7" cy="901.6" r="1.95" fill="#e27a1e"/>
<circle cx="294.4" cy="904.5" r="1.95" fill="#e27a1e"/>
<circle cx="295.1" cy="899.9" r="1.95" fill="#e27a1e"/>
<circle cx="295.9" cy="894.9" r="1.95" fill="#e27a1e"/>
<circle cx="296.6" cy="909.7" r="1.95" fill="#e27a1e"/>
<circle cx="297.3" cy="899.8" r="1.95" fill="#e27a1e"/>
<circle cx="298.1" cy="899.1" r="1.95" fill="#e27a1e"/>
<circle cx="298.8" cy="889.8" r="1.95" fill="#e27a1e"/>
<circle cx="299.5" cy="901.8" r="1.95" fill="#e27a1e"/>
<circle cx="300.3" cy="903.0" r="1.95" fill="#e27a1e"/>
<circle cx="301.0" cy="919.0" r="1.95" fill="#e27a1e"/>
<circle cx="301.7" cy="894.9" r="1.95" fill="#e27a1e"/>
<circle cx="302.5" cy="907.7" r="1.95" fill="#e27a1e"/>
<circle cx="303.2" cy="895.8" r="1.95" fill="#e27a1e"/>
<circle cx="303.9" cy="892.5" r="1.95" fill="#e27a1e"/>
<circle cx="304.7" cy="906.8" r="1.95" fill="#e27a1e"/>
<circle cx="305.4" cy="899.0" r="1.95" fill="#e27a1e"/>
<circle cx="306.1" cy="904.1" r="1.95" fill="#e27a1e"/>
<circle cx="306.9" cy="896.8" r="1.95" fill="#e27a1e"/>
<circle cx="307.6" cy="905.3" r="1.95" fill="#e27a1e"/>
<circle cx="308.3" cy="896.5" r="1.95" fill="#e27a1e"/>
<circle cx="309.0" cy="906.6" r="1.95" fill="#e27a1e"/>
<circle cx="309.8" cy="896.1" r="1.95" fill="#e27a1e"/>
<circle cx="310.5" cy="894.8" r="1.95" fill="#e27a1e"/>
<circle cx="311.2" cy="905.2" r="1.95" fill="#e27a1e"/>
<circle cx="312.0" cy="913.3" r="1.95" fill="#e27a1e"/>
<circle cx="312.7" cy="911.2" r="1.95" fill="#e27a1e"/>
<circle cx="313.4" cy="907.2" r="1.95" fill="#e27a1e"/>
<circle cx="314.2" cy="896.5" r="1.95" fill="#e27a1e"/>
<circle cx="314.9" cy="910.0" r="1.95" fill="#e27a1e"/>
<circle cx="315.6" cy="900.9" r="1.95" fill="#e27a1e"/>
<circle cx="316.4" cy="910.4" r="1.95" fill="#e27a1e"/>
<circle cx="317.1" cy="906.1" r="1.95" fill="#e27a1e"/>
<circle cx="317.8" cy="910.3" r="1.95" fill="#e27a1e"/>
<circle cx="318.6" cy="907.5" r="1.95" fill="#e27a1e"/>
<circle cx="319.3" cy="901.9" r="1.95" fill="#e27a1e"/>
<circle cx="320.0" cy="914.3" r="1.95" fill="#e27a1e"/>
<circle cx="320.8" cy="900.1" r="1.95" fill="#e27a1e"/>
<circle cx="321.5" cy="906.8" r="1.95" fill="#e27a1e"/>
<circle cx="322.2" cy="906.4" r="1.95" fill="#e27a1e"/>
<circle cx="323.0" cy="906.5" r="1.95" fill="#e27a1e"/>
<circle cx="323.7" cy="906.9" r="1.95" fill="#e27a1e"/>
<circle cx="324.4" cy="917.2" r="1.95" fill="#e27a1e"/>
<circle cx="325.2" cy="910.4" r="1.95" fill="#e27a1e"/>
<circle cx="325.9" cy="905.0" r="1.95" fill="#e27a1e"/>
<circle cx="326.6" cy="906.2" r="1.95" fill="#e27a1e"/>
<circle cx="327.3" cy="903.7" r="1.95" fill="#e27a1e"/>
<circle cx="328.1" cy="911.3" r="1.95" fill="#e27a1e"/>
<circle cx="328.8" cy="913.2" r="1.95" fill="#e27a1e"/>
<circle cx="329.5" cy="903.0" r="1.95" fill="#e27a1e"/>
<circle cx="330.3" cy="894.7" r="1.95" fill="#e27a1e"/>
<circle cx="331.0" cy="911.6" r="1.95" fill="#e27a1e"/>
<circle cx="331.7" cy="910.8" r="1.95" fill="#e27a1e"/>
<circle cx="332.5" cy="910.3" r="1.95" fill="#e27a1e"/>
<circle cx="333.2" cy="904.4" r="1.95" fill="#e27a1e"/>
<circle cx="333.9" cy="899.6" r="1.95" fill="#e27a1e"/>
<circle cx="334.7" cy="901.5" r="1.95" fill="#e27a1e"/>
<circle cx="335.4" cy="911.5" r="1.95" fill="#e27a1e"/>
<circle cx="336.1" cy="911.1" r="1.95" fill="#e27a1e"/>
<circle cx="336.9" cy="908.0" r="1.95" fill="#e27a1e"/>
<circle cx="337.6" cy="900.5" r="1.95" fill="#e27a1e"/>
<circle cx="338.3" cy="895.4" r="1.95" fill="#e27a1e"/>
<circle cx="339.1" cy="891.4" r="1.95" fill="#e27a1e"/>
<circle cx="339.8" cy="900.7" r="1.95" fill="#e27a1e"/>
<circle cx="340.5" cy="904.9" r="1.95" fill="#e27a1e"/>
<circle cx="341.3" cy="902.0" r="1.95" fill="#e27a1e"/>
<circle cx="342.0" cy="903.3" r="1.95" fill="#e27a1e"/>
<circle cx="342.7" cy="895.5" r="1.95" fill="#e27a1e"/>
<circle cx="343.4" cy="901.6" r="1.95" fill="#e27a1e"/>
<circle cx="344.2" cy="909.7" r="1.95" fill="#e27a1e"/>
<circle cx="344.9" cy="907.4" r="1.95" fill="#e27a1e"/>
<circle cx="345.6" cy="904.5" r="1.95" fill="#e27a1e"/>
<circle cx="346.4" cy="908.2" r="1.95" fill="#e27a1e"/>
<circle cx="347.1" cy="911.4" r="1.95" fill="#e27a1e"/>
<circle cx="347.8" cy="914.8" r="1.95" fill="#e27a1e"/>
<circle cx="348.6" cy="908.3" r="1.95" fill="#e27a1e"/>
<circle cx="349.3" cy="918.2" r="1.95" fill="#e27a1e"/>
<circle cx="350.0" cy="917.1" r="1.95" fill="#e27a1e"/>
<circle cx="350.8" cy="901.4" r="1.95" fill="#e27a1e"/>
<circle cx="351.5" cy="905.5" r="1.95" fill="#e27a1e"/>
<circle cx="352.2" cy="911.8" r="1.95" fill="#e27a1e"/>
<circle cx="353.0" cy="898.5" r="1.95" fill="#e27a1e"/>
<circle cx="353.7" cy="908.5" r="1.95" fill="#e27a1e"/>
<circle cx="354.4" cy="915.5" r="1.95" fill="#e27a1e"/>
<circle cx="355.2" cy="911.9" r="1.95" fill="#e27a1e"/>
<circle cx="355.9" cy="903.6" r="1.95" fill="#e27a1e"/>
<circle cx="356.6" cy="907.4" r="1.95" fill="#e27a1e"/>
<circle cx="357.4" cy="904.3" r="1.95" fill="#e27a1e"/>
<circle cx="358.1" cy="906.7" r="1.95" fill="#e27a1e"/>
<circle cx="358.8" cy="898.8" r="1.95" fill="#e27a1e"/>
<circle cx="359.6" cy="912.6" r="1.95" fill="#e27a1e"/>
<circle cx="360.3" cy="904.1" r="1.95" fill="#e27a1e"/>
<circle cx="361.0" cy="904.0" r="1.95" fill="#e27a1e"/>
<circle cx="361.7" cy="902.9" r="1.95" fill="#e27a1e"/>
<circle cx="362.5" cy="911.9" r="1.95" fill="#e27a1e"/>
<circle cx="363.2" cy="899.8" r="1.95" fill="#e27a1e"/>
<circle cx="363.9" cy="913.2" r="1.95" fill="#e27a1e"/>
<circle cx="364.7" cy="908.0" r="1.95" fill="#e27a1e"/>
<circle cx="365.4" cy="900.8" r="1.95" fill="#e27a1e"/>
<circle cx="366.1" cy="912.6" r="1.95" fill="#e27a1e"/>
<circle cx="366.9" cy="901.1" r="1.95" fill="#e27a1e"/>
<circle cx="367.6" cy="905.4" r="1.95" fill="#e27a1e"/>
<circle cx="368.3" cy="910.5" r="1.95" fill="#e27a1e"/>
<circle cx="369.1" cy="915.3" r="1.95" fill="#e27a1e"/>
<circle cx="369.8" cy="910.6" r="1.95" fill="#e27a1e"/>
<circle cx="370.5" cy="912.5" r="1.95" fill="#e27a1e"/>
<circle cx="371.3" cy="893.3" r="1.95" fill="#e27a1e"/>
<circle cx="372.0" cy="911.4" r="1.95" fill="#e27a1e"/>
<circle cx="372.7" cy="904.1" r="1.95" fill="#e27a1e"/>
<circle cx="373.5" cy="898.6" r="1.95" fill="#e27a1e"/>
<circle cx="374.2" cy="903.6" r="1.95" fill="#e27a1e"/>
<circle cx="374.9" cy="898.4" r="1.95" fill="#e27a1e"/>
<circle cx="375.7" cy="908.2" r="1.95" fill="#e27a1e"/>
<circle cx="376.4" cy="900.6" r="1.95" fill="#e27a1e"/>
<circle cx="377.1" cy="897.8" r="1.95" fill="#e27a1e"/>
<circle cx="377.9" cy="913.7" r="1.95" fill="#e27a1e"/>
<circle cx="378.6" cy="907.5" r="1.95" fill="#e27a1e"/>
<circle cx="379.3" cy="907.5" r="1.95" fill="#e27a1e"/>
<circle cx="380.0" cy="913.3" r="1.95" fill="#e27a1e"/>
<circle cx="380.8" cy="898.8" r="1.95" fill="#e27a1e"/>
<circle cx="381.5" cy="905.2" r="1.95" fill="#e27a1e"/>
<circle cx="382.2" cy="902.7" r="1.95" fill="#e27a1e"/>
<circle cx="383.0" cy="905.0" r="1.95" fill="#e27a1e"/>
<circle cx="383.7" cy="918.4" r="1.95" fill="#e27a1e"/>
<circle cx="384.4" cy="899.4" r="1.95" fill="#e27a1e"/>
<circle cx="385.2" cy="913.4" r="1.95" fill="#e27a1e"/>
<circle cx="385.9" cy="906.0" r="1.95" fill="#e27a1e"/>
<circle cx="386.6" cy="905.1" r="1.95" fill="#e27a1e"/>
<circle cx="387.4" cy="910.5" r="1.95" fill="#e27a1e"/>
<circle cx="388.1" cy="898.8" r="1.95" fill="#e27a1e"/>
<circle cx="388.8" cy="903.9" r="1.95" fill="#e27a1e"/>
<circle cx="389.6" cy="902.6" r="1.95" fill="#e27a1e"/>
<circle cx="390.3" cy="907.8" r="1.95" fill="#e27a1e"/>
<circle cx="391.0" cy="910.3" r="1.95" fill="#e27a1e"/>
<circle cx="391.8" cy="909.1" r="1.95" fill="#e27a1e"/>
<circle cx="392.5" cy="908.4" r="1.95" fill="#e27a1e"/>
<circle cx="393.2" cy="908.2" r="1.95" fill="#e27a1e"/>
<circle cx="394.0" cy="894.6" r="1.95" fill="#e27a1e"/>
<circle cx="394.7" cy="911.6" r="1.95" fill="#e27a1e"/>
<circle cx="395.4" cy="908.8" r="1.95" fill="#e27a1e"/>
<circle cx="396.1" cy="903.8" r="1.95" fill="#e27a1e"/>
<circle cx="396.9" cy="903.2" r="1.95" fill="#e27a1e"/>
<circle cx="397.6" cy="918.3" r="1.95" fill="#e27a1e"/>
<circle cx="398.3" cy="906.9" r="1.95" fill="#e27a1e"/>
<circle cx="399.1" cy="900.4" r="1.95" fill="#e27a1e"/>
<circle cx="399.8" cy="905.9" r="1.95" fill="#e27a1e"/>
<circle cx="400.5" cy="909.2" r="1.95" fill="#e27a1e"/>
<circle cx="401.3" cy="909.7" r="1.95" fill="#e27a1e"/>
<circle cx="402.0" cy="903.7" r="1.95" fill="#e27a1e"/>
<circle cx="402.7" cy="902.7" r="1.95" fill="#e27a1e"/>
<circle cx="403.5" cy="903.5" r="1.95" fill="#e27a1e"/>
<circle cx="404.2" cy="904.8" r="1.95" fill="#e27a1e"/>
<circle cx="404.9" cy="908.4" r="1.95" fill="#e27a1e"/>
<circle cx="405.7" cy="907.5" r="1.95" fill="#e27a1e"/>
<circle cx="406.4" cy="909.3" r="1.95" fill="#e27a1e"/>
<circle cx="407.1" cy="906.5" r="1.95" fill="#e27a1e"/>
<circle cx="407.9" cy="910.0" r="1.95" fill="#e27a1e"/>
<circle cx="408.6" cy="909.7" r="1.95" fill="#e27a1e"/>
<circle cx="409.3" cy="912.0" r="1.95" fill="#e27a1e"/>
<circle cx="410.1" cy="910.3" r="1.95" fill="#e27a1e"/>
<circle cx="410.8" cy="902.0" r="1.95" fill="#e27a1e"/>
<circle cx="411.5" cy="906.7" r="1.95" fill="#e27a1e"/>
<circle cx="412.3" cy="907.8" r="1.95" fill="#e27a1e"/>
<circle cx="413.0" cy="903.3" r="1.95" fill="#e27a1e"/>
<circle cx="413.7" cy="910.4" r="1.95" fill="#e27a1e"/>
<circle cx="414.4" cy="902.3" r="1.95" fill="#e27a1e"/>
<circle cx="415.2" cy="911.9" r="1.95" fill="#e27a1e"/>
<circle cx="415.9" cy="908.1" r="1.95" fill="#e27a1e"/>
<circle cx="416.6" cy="912.7" r="1.95" fill="#e27a1e"/>
<circle cx="417.4" cy="908.7" r="1.95" fill="#e27a1e"/>
<circle cx="418.1" cy="919.6" r="1.95" fill="#e27a1e"/>
<circle cx="418.8" cy="908.9" r="1.95" fill="#e27a1e"/>
<circle cx="419.6" cy="909.5" r="1.95" fill="#e27a1e"/>
<circle cx="420.3" cy="908.1" r="1.95" fill="#e27a1e"/>
<circle cx="421.0" cy="911.6" r="1.95" fill="#e27a1e"/>
<circle cx="421.8" cy="903.7" r="1.95" fill="#e27a1e"/>
<circle cx="422.5" cy="901.3" r="1.95" fill="#e27a1e"/>
<circle cx="423.2" cy="904.2" r="1.95" fill="#e27a1e"/>
<circle cx="424.0" cy="905.6" r="1.95" fill="#e27a1e"/>
<circle cx="424.7" cy="906.1" r="1.95" fill="#e27a1e"/>
<circle cx="425.4" cy="918.5" r="1.95" fill="#e27a1e"/>
<circle cx="426.2" cy="904.3" r="1.95" fill="#e27a1e"/>
<circle cx="426.9" cy="902.9" r="1.95" fill="#e27a1e"/>
<circle cx="427.6" cy="897.4" r="1.95" fill="#e27a1e"/>
<circle cx="428.4" cy="906.6" r="1.95" fill="#e27a1e"/>
<circle cx="429.1" cy="901.8" r="1.95" fill="#e27a1e"/>
<circle cx="429.8" cy="913.8" r="1.95" fill="#e27a1e"/>
<circle cx="430.6" cy="908.7" r="1.95" fill="#e27a1e"/>
<circle cx="431.3" cy="917.2" r="1.95" fill="#e27a1e"/>
<circle cx="432.0" cy="901.7" r="1.95" fill="#e27a1e"/>
<circle cx="432.7" cy="903.8" r="1.95" fill="#e27a1e"/>
<circle cx="433.5" cy="892.9" r="1.95" fill="#e27a1e"/>
<circle cx="434.2" cy="908.8" r="1.95" fill="#e27a1e"/>
<circle cx="434.9" cy="905.4" r="1.95" fill="#e27a1e"/>
<circle cx="435.7" cy="908.6" r="1.95" fill="#e27a1e"/>
<circle cx="436.4" cy="895.6" r="1.95" fill="#e27a1e"/>
<circle cx="437.1" cy="911.4" r="1.95" fill="#e27a1e"/>
<circle cx="437.9" cy="915.2" r="1.95" fill="#e27a1e"/>
<circle cx="438.6" cy="905.6" r="1.95" fill="#e27a1e"/>
<circle cx="439.3" cy="897.0" r="1.95" fill="#e27a1e"/>
<circle cx="440.1" cy="910.7" r="1.95" fill="#e27a1e"/>
<circle cx="440.8" cy="906.1" r="1.95" fill="#e27a1e"/>
<circle cx="441.5" cy="909.4" r="1.95" fill="#e27a1e"/>
<circle cx="442.3" cy="903.7" r="1.95" fill="#e27a1e"/>
<circle cx="443.0" cy="905.3" r="1.95" fill="#e27a1e"/>
<circle cx="443.7" cy="909.5" r="1.95" fill="#e27a1e"/>
<circle cx="444.5" cy="914.8" r="1.95" fill="#e27a1e"/>
<circle cx="445.2" cy="903.2" r="1.95" fill="#e27a1e"/>
<circle cx="445.9" cy="907.0" r="1.95" fill="#e27a1e"/>
<circle cx="446.7" cy="907.3" r="1.95" fill="#e27a1e"/>
<circle cx="447.4" cy="911.6" r="1.95" fill="#e27a1e"/>
<circle cx="448.1" cy="891.8" r="1.95" fill="#e27a1e"/>
<circle cx="448.8" cy="913.0" r="1.95" fill="#e27a1e"/>
<circle cx="449.6" cy="903.3" r="1.95" fill="#e27a1e"/>
<circle cx="450.3" cy="910.7" r="1.95" fill="#e27a1e"/>
<circle cx="451.0" cy="913.2" r="1.95" fill="#e27a1e"/>
<circle cx="451.8" cy="915.2" r="1.95" fill="#e27a1e"/>
<circle cx="452.5" cy="912.7" r="1.95" fill="#e27a1e"/>
<circle cx="453.2" cy="912.7" r="1.95" fill="#e27a1e"/>
<circle cx="454.0" cy="902.4" r="1.95" fill="#e27a1e"/>
<circle cx="454.7" cy="915.0" r="1.95" fill="#e27a1e"/>
<circle cx="455.4" cy="909.6" r="1.95" fill="#e27a1e"/>
<circle cx="456.2" cy="905.5" r="1.95" fill="#e27a1e"/>
<circle cx="456.9" cy="906.6" r="1.95" fill="#e27a1e"/>
<circle cx="457.6" cy="908.0" r="1.95" fill="#e27a1e"/>
<circle cx="458.4" cy="913.4" r="1.95" fill="#e27a1e"/>
<circle cx="459.1" cy="906.0" r="1.95" fill="#e27a1e"/>
<circle cx="459.8" cy="898.3" r="1.95" fill="#e27a1e"/>
<circle cx="460.6" cy="892.9" r="1.95" fill="#e27a1e"/>
<circle cx="461.3" cy="908.2" r="1.95" fill="#e27a1e"/>
<circle cx="462.0" cy="917.2" r="1.95" fill="#e27a1e"/>
<circle cx="462.8" cy="917.3" r="1.95" fill="#e27a1e"/>
<circle cx="463.5" cy="908.8" r="1.95" fill="#e27a1e"/>
<circle cx="464.2" cy="912.0" r="1.95" fill="#e27a1e"/>
<circle cx="465.0" cy="915.0" r="1.95" fill="#e27a1e"/>
<circle cx="465.7" cy="903.3" r="1.95" fill="#e27a1e"/>
<circle cx="466.4" cy="910.9" r="1.95" fill="#e27a1e"/>
<circle cx="467.1" cy="911.1" r="1.95" fill="#e27a1e"/>
<circle cx="467.9" cy="911.3" r="1.95" fill="#e27a1e"/>
<circle cx="468.6" cy="905.9" r="1.95" fill="#e27a1e"/>
<circle cx="469.3" cy="904.7" r="1.95" fill="#e27a1e"/>
<circle cx="470.1" cy="907.0" r="1.95" fill="#e27a1e"/>
<circle cx="470.8" cy="915.0" r="1.95" fill="#e27a1e"/>
<circle cx="471.5" cy="911.9" r="1.95" fill="#e27a1e"/>
<circle cx="472.3" cy="913.7" r="1.95" fill="#e27a1e"/>
<circle cx="473.0" cy="904.3" r="1.95" fill="#e27a1e"/>
<circle cx="473.7" cy="911.4" r="1.95" fill="#e27a1e"/>
<circle cx="474.5" cy="894.2" r="1.95" fill="#e27a1e"/>
<circle cx="475.2" cy="901.2" r="1.95" fill="#e27a1e"/>
<circle cx="475.9" cy="904.3" r="1.95" fill="#e27a1e"/>
<circle cx="476.7" cy="904.5" r="1.95" fill="#e27a1e"/>
<circle cx="477.4" cy="901.0" r="1.95" fill="#e27a1e"/>
<circle cx="478.1" cy="906.8" r="1.95" fill="#e27a1e"/>
<circle cx="478.9" cy="910.0" r="1.95" fill="#e27a1e"/>
<circle cx="479.6" cy="916.2" r="1.95" fill="#e27a1e"/>
<circle cx="480.3" cy="906.1" r="1.95" fill="#e27a1e"/>
<circle cx="481.1" cy="900.2" r="1.95" fill="#e27a1e"/>
<circle cx="481.8" cy="906.9" r="1.95" fill="#e27a1e"/>
<circle cx="482.5" cy="891.3" r="1.95" fill="#e27a1e"/>
<circle cx="483.2" cy="907.5" r="1.95" fill="#e27a1e"/>
<circle cx="484.0" cy="907.6" r="1.95" fill="#e27a1e"/>
<circle cx="484.7" cy="909.1" r="1.95" fill="#e27a1e"/>
<circle cx="485.4" cy="907.2" r="1.95" fill="#e27a1e"/>
<circle cx="486.2" cy="909.9" r="1.95" fill="#e27a1e"/>
<circle cx="486.9" cy="909.0" r="1.95" fill="#e27a1e"/>
<circle cx="487.6" cy="910.0" r="1.95" fill="#e27a1e"/>
<circle cx="488.4" cy="903.7" r="1.95" fill="#e27a1e"/>
<circle cx="489.1" cy="908.0" r="1.95" fill="#e27a1e"/>
<circle cx="489.8" cy="903.7" r="1.95" fill="#e27a1e"/>
<circle cx="490.6" cy="906.4" r="1.95" fill="#e27a1e"/>
<circle cx="491.3" cy="901.5" r="1.95" fill="#e27a1e"/>
<circle cx="492.0" cy="916.0" r="1.95" fill="#e27a1e"/>
<circle cx="492.8" cy="903.0" r="1.95" fill="#e27a1e"/>
<circle cx="493.5" cy="912.2" r="1.95" fill="#e27a1e"/>
<circle cx="494.2" cy="906.0" r="1.95" fill="#e27a1e"/>
<circle cx="495.0" cy="913.2" r="1.95" fill="#e27a1e"/>
<circle cx="495.7" cy="905.8" r="1.95" fill="#e27a1e"/>
<circle cx="496.4" cy="912.8" r="1.95" fill="#e27a1e"/>
<circle cx="497.2" cy="900.6" r="1.95" fill="#e27a1e"/>
<circle cx="497.9" cy="902.1" r="1.95" fill="#e27a1e"/>
<circle cx="498.6" cy="908.3" r="1.95" fill="#e27a1e"/>
<circle cx="499.4" cy="915.6" r="1.95" fill="#e27a1e"/>
<circle cx="500.1" cy="914.9" r="1.95" fill="#e27a1e"/>
<circle cx="500.8" cy="900.4" r="1.95" fill="#e27a1e"/>
<circle cx="501.5" cy="916.2" r="1.95" fill="#e27a1e"/>
<circle cx="502.3" cy="911.7" r="1.95" fill="#e27a1e"/>
<circle cx="503.0" cy="913.6" r="1.95" fill="#e27a1e"/>
<circle cx="503.7" cy="910.2" r="1.95" fill="#e27a1e"/>
<circle cx="504.5" cy="897.6" r="1.95" fill="#e27a1e"/>
<circle cx="505.2" cy="911.1" r="1.95" fill="#e27a1e"/>
<circle cx="505.9" cy="895.7" r="1.95" fill="#e27a1e"/>
<circle cx="506.7" cy="901.0" r="1.95" fill="#e27a1e"/>
<circle cx="507.4" cy="908.5" r="1.95" fill="#e27a1e"/>
<circle cx="508.1" cy="919.1" r="1.95" fill="#e27a1e"/>
<circle cx="508.9" cy="905.0" r="1.95" fill="#e27a1e"/>
<circle cx="509.6" cy="912.1" r="1.95" fill="#e27a1e"/>
<circle cx="510.3" cy="903.8" r="1.95" fill="#e27a1e"/>
<circle cx="511.1" cy="909.6" r="1.95" fill="#e27a1e"/>
<circle cx="511.8" cy="910.6" r="1.95" fill="#e27a1e"/>
<circle cx="512.5" cy="901.2" r="1.95" fill="#e27a1e"/>
<circle cx="513.3" cy="902.8" r="1.95" fill="#e27a1e"/>
<circle cx="514.0" cy="903.7" r="1.95" fill="#e27a1e"/>
<circle cx="514.7" cy="909.9" r="1.95" fill="#e27a1e"/>
<circle cx="515.5" cy="907.4" r="1.95" fill="#e27a1e"/>
<circle cx="516.2" cy="907.9" r="1.95" fill="#e27a1e"/>
<circle cx="516.9" cy="907.5" r="1.95" fill="#e27a1e"/>
<circle cx="517.7" cy="895.1" r="1.95" fill="#e27a1e"/>
<circle cx="518.4" cy="907.4" r="1.95" fill="#e27a1e"/>
<circle cx="519.1" cy="912.0" r="1.95" fill="#e27a1e"/>
<circle cx="519.8" cy="911.0" r="1.95" fill="#e27a1e"/>
<circle cx="520.6" cy="904.8" r="1.95" fill="#e27a1e"/>
<circle cx="521.3" cy="919.8" r="1.95" fill="#e27a1e"/>
<circle cx="522.0" cy="902.2" r="1.95" fill="#e27a1e"/>
<circle cx="522.8" cy="929.2" r="1.95" fill="#e27a1e"/>
<circle cx="523.5" cy="909.0" r="1.95" fill="#e27a1e"/>
<circle cx="524.2" cy="902.6" r="1.95" fill="#e27a1e"/>
<circle cx="525.0" cy="898.7" r="1.95" fill="#e27a1e"/>
<circle cx="525.7" cy="909.9" r="1.95" fill="#e27a1e"/>
<circle cx="526.4" cy="909.4" r="1.95" fill="#e27a1e"/>
<circle cx="527.2" cy="911.8" r="1.95" fill="#e27a1e"/>
<circle cx="527.9" cy="900.1" r="1.95" fill="#e27a1e"/>
<circle cx="528.6" cy="911.1" r="1.95" fill="#e27a1e"/>
<circle cx="529.4" cy="912.0" r="1.95" fill="#e27a1e"/>
<circle cx="530.1" cy="912.1" r="1.95" fill="#e27a1e"/>
<circle cx="530.8" cy="913.2" r="1.95" fill="#e27a1e"/>
<circle cx="531.6" cy="913.2" r="1.95" fill="#e27a1e"/>
<circle cx="532.3" cy="916.2" r="1.95" fill="#e27a1e"/>
<circle cx="533.0" cy="906.6" r="1.95" fill="#e27a1e"/>
<circle cx="533.8" cy="911.7" r="1.95" fill="#e27a1e"/>
<circle cx="534.5" cy="906.1" r="1.95" fill="#e27a1e"/>
<circle cx="535.2" cy="908.1" r="1.95" fill="#e27a1e"/>
<circle cx="535.9" cy="898.7" r="1.95" fill="#e27a1e"/>
<circle cx="536.7" cy="905.4" r="1.95" fill="#e27a1e"/>
<circle cx="537.4" cy="904.0" r="1.95" fill="#e27a1e"/>
<circle cx="538.1" cy="908.5" r="1.95" fill="#e27a1e"/>
<circle cx="538.9" cy="910.1" r="1.95" fill="#e27a1e"/>
<circle cx="539.6" cy="909.2" r="1.95" fill="#e27a1e"/>
<circle cx="540.3" cy="908.2" r="1.95" fill="#e27a1e"/>
<circle cx="541.1" cy="900.4" r="1.95" fill="#e27a1e"/>
<circle cx="541.8" cy="913.9" r="1.95" fill="#e27a1e"/>
<circle cx="542.5" cy="910.2" r="1.95" fill="#e27a1e"/>
<circle cx="543.3" cy="908.3" r="1.95" fill="#e27a1e"/>
<circle cx="544.0" cy="914.6" r="1.95" fill="#e27a1e"/>
<polyline points="230.00,876.20 230.31,879.36 230.63,882.11 230.94,884.50 231.26,886.57 231.57,888.37 231.88,889.93 232.20,891.29 232.51,892.48 232.83,893.51 233.14,894.40 233.45,895.19 233.77,895.87 234.08,896.46 234.40,896.98 234.71,897.44 235.02,897.84 235.34,898.19 235.65,898.49 235.97,898.76 236.28,899.00 236.59,899.21 236.91,899.40 237.22,899.56 237.54,899.71 237.85,899.84 238.16,899.96 238.48,900.07 238.79,900.16 239.11,900.25 239.42,900.33 239.73,900.40 240.05,900.47 240.36,900.53 240.68,900.59 240.99,900.64 241.30,900.69 241.62,900.74 241.93,900.78 242.25,900.83 242.56,900.87 242.87,900.90 243.19,900.94 243.50,900.98 243.82,901.01 244.13,901.05 244.44,901.08 244.76,901.11 245.07,901.14 245.39,901.18 245.70,901.21 246.01,901.24 249.15,901.52 252.29,901.78 255.43,902.04 258.57,902.28 261.71,902.52 264.85,902.75 267.99,902.97 271.13,903.19 274.27,903.39 277.41,903.60 280.55,903.79 283.69,903.98 286.83,904.16 289.97,904.34 293.11,904.51 296.25,904.67 299.39,904.83 302.53,904.98 305.67,905.13 308.81,905.28 311.95,905.41 315.09,905.55 318.23,905.68 321.37,905.80 324.51,905.93 327.65,906.04 330.79,906.16 333.93,906.27 337.07,906.38 340.21,906.48 343.35,906.58 346.49,906.67 349.63,906.77 352.77,906.86 355.91,906.95 359.05,907.03 362.19,907.11 365.33,907.19 368.47,907.27 371.61,907.34 374.75,907.41 377.89,907.48 381.03,907.55 384.17,907.61 387.31,907.68 390.45,907.74 393.59,907.79 396.73,907.85 399.87,907.91 403.01,907.96 406.15,908.01 409.29,908.06 412.43,908.11 415.57,908.15 418.71,908.20 421.85,908.24 424.99,908.28 428.13,908.32 431.27,908.36 434.41,908.40 437.55,908.44 440.69,908.47 443.83,908.51 446.97,908.54 450.11,908.57 453.25,908.60 456.39,908.63 459.53,908.66 462.67,908.69 465.81,908.72 468.95,908.74 472.09,908.77 475.23,908.79 478.37,908.82 481.51,908.84 484.65,908.86 487.79,908.89 490.93,908.91 494.07,908.93 497.21,908.95 500.35,908.96 503.49,908.98 506.63,909.00 509.77,909.02 512.91,909.03 516.05,909.05 519.19,909.07 522.33,909.08 525.47,909.09 528.61,909.11 531.75,909.12 534.89,909.13 538.03,909.15 541.17,909.16 544.94,909.17" fill="none" stroke="#2a1a10" stroke-width="1.3"/>
<polyline points="230.00,873.85 230.31,879.60 230.63,884.32 230.94,888.19 231.26,891.38 231.57,894.00 231.88,896.15 232.20,897.93 232.51,899.40 232.83,900.61 233.14,901.61 233.45,902.44 233.77,903.13 234.08,903.71 234.40,904.20 234.71,904.61 235.02,904.95 235.34,905.24 235.65,905.49 235.97,905.71 236.28,905.90 236.59,906.06 236.91,906.21 237.22,906.34 237.54,906.46 237.85,906.56 238.16,906.66 238.48,906.75 238.79,906.84 239.11,906.92 239.42,906.99 239.73,907.06 240.05,907.13 240.36,907.20 240.68,907.27 240.99,907.33 241.30,907.39 241.62,907.45 241.93,907.51 242.25,907.57 242.56,907.63 242.87,907.69 243.19,907.75 243.50,907.80 243.82,907.86 244.13,907.92 244.44,907.97 244.76,908.03 245.07,908.08 245.39,908.14 245.70,908.19 246.01,908.25 249.15,908.77 252.29,909.28 255.43,909.76 258.57,910.23 261.71,910.68 264.85,911.11 267.99,911.53 271.13,911.92 274.27,912.31 277.41,912.67 280.55,913.03 283.69,913.36 286.83,913.69 289.97,914.00 293.11,914.30 296.25,914.59 299.39,914.87 302.53,915.14 305.67,915.39 308.81,915.64 311.95,915.88 315.09,916.10 318.23,916.32 321.37,916.53 324.51,916.73 327.65,916.93 330.79,917.11 333.93,917.29 337.07,917.46 340.21,917.63 343.35,917.79 346.49,917.94 349.63,918.09 352.77,918.23 355.91,918.36 359.05,918.49 362.19,918.62 365.33,918.74 368.47,918.85 371.61,918.96 374.75,919.07 377.89,919.17 381.03,919.27 384.17,919.36 387.31,919.45 390.45,919.54 393.59,919.62 396.73,919.70 399.87,919.78 403.01,919.86 406.15,919.93 409.29,919.99 412.43,920.06 415.57,920.12 418.71,920.18 421.85,920.24 424.99,920.30 428.13,920.35 431.27,920.40 434.41,920.45 437.55,920.50 440.69,920.55 443.83,920.59 446.97,920.63 450.11,920.67 453.25,920.71 456.39,920.75 459.53,920.79 462.67,920.82 465.81,920.86 468.95,920.89 472.09,920.92 475.23,920.95 478.37,920.98 481.51,921.00 484.65,921.03 487.79,921.05 490.93,921.08 494.07,921.10 497.21,921.12 500.35,921.15 503.49,921.17 506.63,921.19 509.77,921.21 512.91,921.22 516.05,921.24 519.19,921.26 522.33,921.27 525.47,921.29 528.61,921.31 531.75,921.32 534.89,921.33 538.03,921.35 541.17,921.36 544.94,921.37" fill="none" stroke="#1a1a2a" stroke-width="1.3"/>
<circle cx="246.7" cy="849" r="1.75" fill="#9a9ab2"/>
<circle cx="246.7" cy="866" r="1.75" fill="#e27a1e"/>
<text x="270.5" y="854" font-size="14.2" text-anchor="start" fill="#111">Control</text>
<text x="270.5" y="871" font-size="14.2" text-anchor="start" fill="#111">AEA</text>
</svg></body></html>
